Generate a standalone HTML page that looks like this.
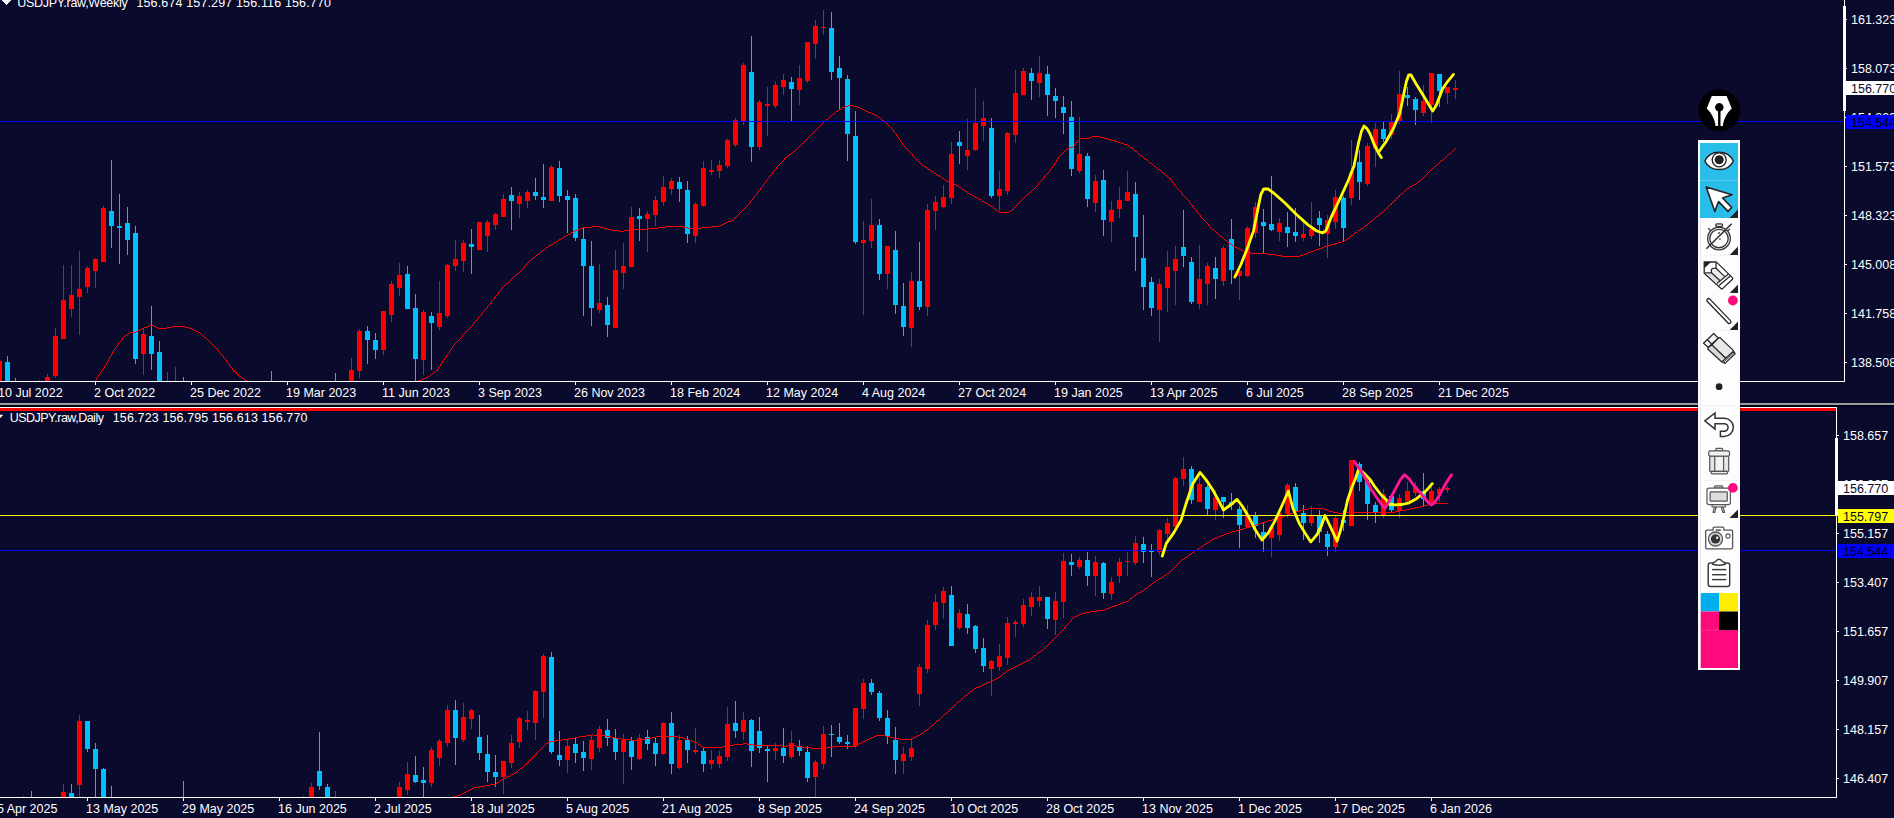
<!DOCTYPE html>
<html><head><meta charset="utf-8"><title>USDJPY</title>
<style>
html,body{margin:0;padding:0;background:#0a0a2d;overflow:hidden}
body{width:1894px;height:818px;position:relative;font-family:"Liberation Sans",sans-serif}
.t{position:absolute;font-size:12.5px;line-height:16px;height:16px;white-space:nowrap}
.tag{position:absolute;height:14px;overflow:hidden;font-size:12.5px;line-height:14px}
.tag span{position:absolute;top:1px}
</style></head><body>
<svg width="1894" height="818" viewBox="0 0 1894 818" style="position:absolute;left:0;top:0" shape-rendering="crispEdges">
<rect width="1894" height="818" fill="#0a0a2d"/>
<g id="top">
<rect x="-1" y="361" width="1" height="20" fill="#ff0000"/>
<rect x="-3" y="361" width="5" height="20" fill="#ff0000"/>
<rect x="7" y="356" width="1" height="25" fill="#00bfff"/>
<rect x="5" y="362" width="5" height="19" fill="#00bfff"/>
<rect x="15" y="378" width="1" height="3" fill="#00bfff"/>
<rect x="39" y="380" width="1" height="1" fill="#ff0000"/>
<rect x="47" y="374" width="1" height="7" fill="#ff0000"/>
<rect x="45" y="377" width="5" height="4" fill="#ff0000"/>
<rect x="55" y="328" width="1" height="50" fill="#ff0000"/>
<rect x="53" y="336" width="5" height="40" fill="#ff0000"/>
<rect x="63" y="265" width="1" height="74" fill="#ff0000"/>
<rect x="61" y="300" width="5" height="39" fill="#ff0000"/>
<rect x="71" y="265" width="1" height="52" fill="#ff0000"/>
<rect x="69" y="295" width="5" height="14" fill="#ff0000"/>
<rect x="79" y="251" width="1" height="84" fill="#ff0000"/>
<rect x="77" y="289" width="5" height="8" fill="#ff0000"/>
<rect x="87" y="266" width="1" height="27" fill="#ff0000"/>
<rect x="85" y="268" width="5" height="19" fill="#ff0000"/>
<rect x="95" y="258" width="1" height="30" fill="#ff0000"/>
<rect x="93" y="259" width="5" height="12" fill="#ff0000"/>
<rect x="103" y="206" width="1" height="56" fill="#ff0000"/>
<rect x="101" y="208" width="5" height="54" fill="#ff0000"/>
<rect x="111" y="160" width="1" height="88" fill="#00bfff"/>
<rect x="109" y="211" width="5" height="15" fill="#00bfff"/>
<rect x="119" y="194" width="1" height="70" fill="#00bfff"/>
<rect x="117" y="226" width="5" height="2" fill="#00bfff"/>
<rect x="127" y="207" width="1" height="48" fill="#00bfff"/>
<rect x="125" y="223" width="5" height="17" fill="#00bfff"/>
<rect x="135" y="226" width="1" height="138" fill="#00bfff"/>
<rect x="133" y="233" width="5" height="126" fill="#00bfff"/>
<rect x="143" y="328" width="1" height="47" fill="#ff0000"/>
<rect x="141" y="334" width="5" height="20" fill="#ff0000"/>
<rect x="151" y="306" width="1" height="64" fill="#00bfff"/>
<rect x="149" y="336" width="5" height="18" fill="#00bfff"/>
<rect x="159" y="341" width="1" height="40" fill="#00bfff"/>
<rect x="157" y="352" width="5" height="29" fill="#00bfff"/>
<rect x="167" y="372" width="1" height="9" fill="#ff0000"/>
<rect x="175" y="367" width="1" height="14" fill="#ff0000"/>
<rect x="183" y="377" width="1" height="4" fill="#00bfff"/>
<rect x="271" y="371" width="1" height="10" fill="#00bfff"/>
<rect x="335" y="373" width="1" height="8" fill="#00bfff"/>
<rect x="351" y="358" width="1" height="23" fill="#ff0000"/>
<rect x="349" y="370" width="5" height="11" fill="#ff0000"/>
<rect x="359" y="329" width="1" height="49" fill="#ff0000"/>
<rect x="357" y="331" width="5" height="40" fill="#ff0000"/>
<rect x="367" y="326" width="1" height="38" fill="#00bfff"/>
<rect x="365" y="331" width="5" height="9" fill="#00bfff"/>
<rect x="375" y="333" width="1" height="26" fill="#00bfff"/>
<rect x="373" y="340" width="5" height="10" fill="#00bfff"/>
<rect x="383" y="311" width="1" height="44" fill="#ff0000"/>
<rect x="381" y="311" width="5" height="39" fill="#ff0000"/>
<rect x="391" y="281" width="1" height="41" fill="#ff0000"/>
<rect x="389" y="284" width="5" height="31" fill="#ff0000"/>
<rect x="399" y="263" width="1" height="33" fill="#ff0000"/>
<rect x="397" y="275" width="5" height="13" fill="#ff0000"/>
<rect x="407" y="266" width="1" height="43" fill="#00bfff"/>
<rect x="405" y="274" width="5" height="35" fill="#00bfff"/>
<rect x="415" y="294" width="1" height="87" fill="#00bfff"/>
<rect x="413" y="308" width="5" height="51" fill="#00bfff"/>
<rect x="423" y="310" width="1" height="65" fill="#ff0000"/>
<rect x="421" y="312" width="5" height="48" fill="#ff0000"/>
<rect x="431" y="312" width="1" height="58" fill="#00bfff"/>
<rect x="429" y="316" width="5" height="7" fill="#00bfff"/>
<rect x="439" y="281" width="1" height="49" fill="#ff0000"/>
<rect x="437" y="313" width="5" height="14" fill="#ff0000"/>
<rect x="447" y="264" width="1" height="54" fill="#ff0000"/>
<rect x="445" y="265" width="5" height="51" fill="#ff0000"/>
<rect x="455" y="240" width="1" height="31" fill="#ff0000"/>
<rect x="453" y="259" width="5" height="7" fill="#ff0000"/>
<rect x="463" y="240" width="1" height="32" fill="#ff0000"/>
<rect x="461" y="243" width="5" height="18" fill="#ff0000"/>
<rect x="471" y="229" width="1" height="45" fill="#00bfff"/>
<rect x="469" y="244" width="5" height="3" fill="#00bfff"/>
<rect x="479" y="222" width="1" height="28" fill="#ff0000"/>
<rect x="477" y="222" width="5" height="28" fill="#ff0000"/>
<rect x="487" y="220" width="1" height="32" fill="#ff0000"/>
<rect x="485" y="222" width="5" height="14" fill="#ff0000"/>
<rect x="495" y="213" width="1" height="17" fill="#ff0000"/>
<rect x="493" y="214" width="5" height="11" fill="#ff0000"/>
<rect x="503" y="194" width="1" height="23" fill="#ff0000"/>
<rect x="501" y="199" width="5" height="18" fill="#ff0000"/>
<rect x="511" y="187" width="1" height="43" fill="#00bfff"/>
<rect x="509" y="195" width="5" height="6" fill="#00bfff"/>
<rect x="519" y="192" width="1" height="26" fill="#ff0000"/>
<rect x="517" y="196" width="5" height="8" fill="#ff0000"/>
<rect x="527" y="190" width="1" height="18" fill="#ff0000"/>
<rect x="525" y="192" width="5" height="9" fill="#ff0000"/>
<rect x="535" y="178" width="1" height="22" fill="#00bfff"/>
<rect x="533" y="192" width="5" height="4" fill="#00bfff"/>
<rect x="543" y="164" width="1" height="44" fill="#00bfff"/>
<rect x="541" y="197" width="5" height="3" fill="#00bfff"/>
<rect x="551" y="165" width="1" height="36" fill="#ff0000"/>
<rect x="549" y="167" width="5" height="34" fill="#ff0000"/>
<rect x="559" y="161" width="1" height="41" fill="#00bfff"/>
<rect x="557" y="168" width="5" height="28" fill="#00bfff"/>
<rect x="567" y="190" width="1" height="43" fill="#00bfff"/>
<rect x="565" y="196" width="5" height="4" fill="#00bfff"/>
<rect x="575" y="194" width="1" height="47" fill="#00bfff"/>
<rect x="573" y="198" width="5" height="40" fill="#00bfff"/>
<rect x="583" y="228" width="1" height="88" fill="#00bfff"/>
<rect x="581" y="239" width="5" height="27" fill="#00bfff"/>
<rect x="591" y="241" width="1" height="85" fill="#00bfff"/>
<rect x="589" y="266" width="5" height="42" fill="#00bfff"/>
<rect x="599" y="264" width="1" height="49" fill="#ff0000"/>
<rect x="597" y="303" width="5" height="7" fill="#ff0000"/>
<rect x="607" y="297" width="1" height="40" fill="#00bfff"/>
<rect x="605" y="305" width="5" height="20" fill="#00bfff"/>
<rect x="615" y="250" width="1" height="78" fill="#ff0000"/>
<rect x="613" y="270" width="5" height="58" fill="#ff0000"/>
<rect x="623" y="243" width="1" height="46" fill="#ff0000"/>
<rect x="621" y="266" width="5" height="7" fill="#ff0000"/>
<rect x="631" y="207" width="1" height="60" fill="#ff0000"/>
<rect x="629" y="217" width="5" height="50" fill="#ff0000"/>
<rect x="639" y="208" width="1" height="33" fill="#00bfff"/>
<rect x="637" y="216" width="5" height="3" fill="#00bfff"/>
<rect x="647" y="211" width="1" height="41" fill="#ff0000"/>
<rect x="645" y="214" width="5" height="5" fill="#ff0000"/>
<rect x="655" y="196" width="1" height="30" fill="#ff0000"/>
<rect x="653" y="200" width="5" height="15" fill="#ff0000"/>
<rect x="663" y="176" width="1" height="30" fill="#ff0000"/>
<rect x="661" y="187" width="5" height="15" fill="#ff0000"/>
<rect x="671" y="178" width="1" height="17" fill="#ff0000"/>
<rect x="669" y="181" width="5" height="8" fill="#ff0000"/>
<rect x="679" y="177" width="1" height="25" fill="#00bfff"/>
<rect x="677" y="182" width="5" height="7" fill="#00bfff"/>
<rect x="687" y="181" width="1" height="62" fill="#00bfff"/>
<rect x="685" y="190" width="5" height="44" fill="#00bfff"/>
<rect x="695" y="202" width="1" height="41" fill="#ff0000"/>
<rect x="693" y="204" width="5" height="32" fill="#ff0000"/>
<rect x="703" y="161" width="1" height="46" fill="#ff0000"/>
<rect x="701" y="168" width="5" height="38" fill="#ff0000"/>
<rect x="711" y="160" width="1" height="15" fill="#ff0000"/>
<rect x="709" y="170" width="5" height="2" fill="#ff0000"/>
<rect x="719" y="160" width="1" height="18" fill="#ff0000"/>
<rect x="717" y="165" width="5" height="6" fill="#ff0000"/>
<rect x="727" y="139" width="1" height="29" fill="#ff0000"/>
<rect x="725" y="140" width="5" height="26" fill="#ff0000"/>
<rect x="735" y="118" width="1" height="29" fill="#ff0000"/>
<rect x="733" y="120" width="5" height="25" fill="#ff0000"/>
<rect x="743" y="63" width="1" height="62" fill="#ff0000"/>
<rect x="741" y="65" width="5" height="57" fill="#ff0000"/>
<rect x="751" y="36" width="1" height="126" fill="#00bfff"/>
<rect x="749" y="72" width="5" height="75" fill="#00bfff"/>
<rect x="759" y="100" width="1" height="50" fill="#ff0000"/>
<rect x="757" y="102" width="5" height="45" fill="#ff0000"/>
<rect x="767" y="87" width="1" height="49" fill="#ff0000"/>
<rect x="765" y="104" width="5" height="2" fill="#ff0000"/>
<rect x="775" y="81" width="1" height="27" fill="#ff0000"/>
<rect x="773" y="85" width="5" height="21" fill="#ff0000"/>
<rect x="783" y="74" width="1" height="21" fill="#ff0000"/>
<rect x="781" y="80" width="5" height="7" fill="#ff0000"/>
<rect x="791" y="77" width="1" height="44" fill="#00bfff"/>
<rect x="789" y="82" width="5" height="7" fill="#00bfff"/>
<rect x="799" y="65" width="1" height="40" fill="#ff0000"/>
<rect x="797" y="78" width="5" height="12" fill="#ff0000"/>
<rect x="807" y="42" width="1" height="41" fill="#ff0000"/>
<rect x="805" y="42" width="5" height="39" fill="#ff0000"/>
<rect x="815" y="20" width="1" height="39" fill="#ff0000"/>
<rect x="813" y="26" width="5" height="18" fill="#ff0000"/>
<rect x="823" y="10" width="1" height="25" fill="#ff0000"/>
<rect x="821" y="27" width="5" height="1" fill="#ff0000"/>
<rect x="831" y="12" width="1" height="68" fill="#00bfff"/>
<rect x="829" y="28" width="5" height="44" fill="#00bfff"/>
<rect x="839" y="56" width="1" height="54" fill="#00bfff"/>
<rect x="837" y="68" width="5" height="10" fill="#00bfff"/>
<rect x="847" y="75" width="1" height="86" fill="#00bfff"/>
<rect x="845" y="79" width="5" height="55" fill="#00bfff"/>
<rect x="855" y="111" width="1" height="133" fill="#00bfff"/>
<rect x="853" y="136" width="5" height="106" fill="#00bfff"/>
<rect x="863" y="221" width="1" height="94" fill="#ff0000"/>
<rect x="861" y="240" width="5" height="3" fill="#ff0000"/>
<rect x="871" y="199" width="1" height="49" fill="#ff0000"/>
<rect x="869" y="225" width="5" height="16" fill="#ff0000"/>
<rect x="879" y="219" width="1" height="61" fill="#00bfff"/>
<rect x="877" y="225" width="5" height="49" fill="#00bfff"/>
<rect x="887" y="246" width="1" height="43" fill="#ff0000"/>
<rect x="885" y="246" width="5" height="28" fill="#ff0000"/>
<rect x="895" y="231" width="1" height="83" fill="#00bfff"/>
<rect x="893" y="250" width="5" height="55" fill="#00bfff"/>
<rect x="903" y="283" width="1" height="53" fill="#00bfff"/>
<rect x="901" y="306" width="5" height="21" fill="#00bfff"/>
<rect x="911" y="272" width="1" height="75" fill="#ff0000"/>
<rect x="909" y="281" width="5" height="47" fill="#ff0000"/>
<rect x="919" y="242" width="1" height="68" fill="#00bfff"/>
<rect x="917" y="281" width="5" height="26" fill="#00bfff"/>
<rect x="927" y="204" width="1" height="112" fill="#ff0000"/>
<rect x="925" y="210" width="5" height="97" fill="#ff0000"/>
<rect x="935" y="196" width="1" height="34" fill="#ff0000"/>
<rect x="933" y="202" width="5" height="9" fill="#ff0000"/>
<rect x="943" y="185" width="1" height="23" fill="#ff0000"/>
<rect x="941" y="197" width="5" height="10" fill="#ff0000"/>
<rect x="951" y="142" width="1" height="62" fill="#ff0000"/>
<rect x="949" y="154" width="5" height="44" fill="#ff0000"/>
<rect x="959" y="131" width="1" height="33" fill="#00bfff"/>
<rect x="957" y="142" width="5" height="4" fill="#00bfff"/>
<rect x="967" y="119" width="1" height="51" fill="#ff0000"/>
<rect x="965" y="150" width="5" height="6" fill="#ff0000"/>
<rect x="975" y="88" width="1" height="63" fill="#ff0000"/>
<rect x="973" y="123" width="5" height="27" fill="#ff0000"/>
<rect x="983" y="101" width="1" height="40" fill="#ff0000"/>
<rect x="981" y="118" width="5" height="8" fill="#ff0000"/>
<rect x="991" y="118" width="1" height="80" fill="#00bfff"/>
<rect x="989" y="128" width="5" height="68" fill="#00bfff"/>
<rect x="999" y="171" width="1" height="40" fill="#ff0000"/>
<rect x="997" y="189" width="5" height="7" fill="#ff0000"/>
<rect x="1007" y="132" width="1" height="63" fill="#ff0000"/>
<rect x="1005" y="133" width="5" height="58" fill="#ff0000"/>
<rect x="1015" y="70" width="1" height="73" fill="#ff0000"/>
<rect x="1013" y="93" width="5" height="42" fill="#ff0000"/>
<rect x="1023" y="68" width="1" height="27" fill="#ff0000"/>
<rect x="1021" y="71" width="5" height="24" fill="#ff0000"/>
<rect x="1031" y="68" width="1" height="32" fill="#00bfff"/>
<rect x="1029" y="73" width="5" height="8" fill="#00bfff"/>
<rect x="1039" y="56" width="1" height="41" fill="#ff0000"/>
<rect x="1037" y="73" width="5" height="10" fill="#ff0000"/>
<rect x="1047" y="66" width="1" height="50" fill="#00bfff"/>
<rect x="1045" y="74" width="5" height="21" fill="#00bfff"/>
<rect x="1055" y="88" width="1" height="30" fill="#00bfff"/>
<rect x="1053" y="96" width="5" height="5" fill="#00bfff"/>
<rect x="1063" y="96" width="1" height="38" fill="#00bfff"/>
<rect x="1061" y="107" width="5" height="6" fill="#00bfff"/>
<rect x="1071" y="101" width="1" height="75" fill="#00bfff"/>
<rect x="1069" y="117" width="5" height="52" fill="#00bfff"/>
<rect x="1079" y="117" width="1" height="56" fill="#ff0000"/>
<rect x="1077" y="154" width="5" height="17" fill="#ff0000"/>
<rect x="1087" y="153" width="1" height="54" fill="#00bfff"/>
<rect x="1085" y="156" width="5" height="43" fill="#00bfff"/>
<rect x="1095" y="175" width="1" height="37" fill="#ff0000"/>
<rect x="1093" y="181" width="5" height="22" fill="#ff0000"/>
<rect x="1103" y="170" width="1" height="66" fill="#00bfff"/>
<rect x="1101" y="180" width="5" height="40" fill="#00bfff"/>
<rect x="1111" y="201" width="1" height="41" fill="#ff0000"/>
<rect x="1109" y="210" width="5" height="12" fill="#ff0000"/>
<rect x="1119" y="187" width="1" height="31" fill="#ff0000"/>
<rect x="1117" y="200" width="5" height="9" fill="#ff0000"/>
<rect x="1127" y="171" width="1" height="30" fill="#ff0000"/>
<rect x="1125" y="192" width="5" height="9" fill="#ff0000"/>
<rect x="1135" y="182" width="1" height="89" fill="#00bfff"/>
<rect x="1133" y="194" width="5" height="43" fill="#00bfff"/>
<rect x="1143" y="215" width="1" height="95" fill="#00bfff"/>
<rect x="1141" y="258" width="5" height="29" fill="#00bfff"/>
<rect x="1151" y="277" width="1" height="39" fill="#00bfff"/>
<rect x="1149" y="282" width="5" height="26" fill="#00bfff"/>
<rect x="1159" y="279" width="1" height="63" fill="#ff0000"/>
<rect x="1157" y="284" width="5" height="26" fill="#ff0000"/>
<rect x="1167" y="251" width="1" height="61" fill="#ff0000"/>
<rect x="1165" y="267" width="5" height="21" fill="#ff0000"/>
<rect x="1175" y="246" width="1" height="59" fill="#ff0000"/>
<rect x="1173" y="259" width="5" height="12" fill="#ff0000"/>
<rect x="1183" y="210" width="1" height="57" fill="#00bfff"/>
<rect x="1181" y="247" width="5" height="9" fill="#00bfff"/>
<rect x="1191" y="257" width="1" height="47" fill="#00bfff"/>
<rect x="1189" y="262" width="5" height="40" fill="#00bfff"/>
<rect x="1199" y="245" width="1" height="64" fill="#ff0000"/>
<rect x="1197" y="279" width="5" height="25" fill="#ff0000"/>
<rect x="1207" y="263" width="1" height="42" fill="#ff0000"/>
<rect x="1205" y="266" width="5" height="18" fill="#ff0000"/>
<rect x="1215" y="257" width="1" height="42" fill="#00bfff"/>
<rect x="1213" y="268" width="5" height="11" fill="#00bfff"/>
<rect x="1223" y="246" width="1" height="40" fill="#ff0000"/>
<rect x="1221" y="248" width="5" height="33" fill="#ff0000"/>
<rect x="1231" y="219" width="1" height="65" fill="#00bfff"/>
<rect x="1229" y="239" width="5" height="31" fill="#00bfff"/>
<rect x="1239" y="271" width="1" height="29" fill="#ff0000"/>
<rect x="1237" y="271" width="5" height="5" fill="#ff0000"/>
<rect x="1247" y="226" width="1" height="51" fill="#ff0000"/>
<rect x="1245" y="228" width="5" height="48" fill="#ff0000"/>
<rect x="1255" y="202" width="1" height="36" fill="#ff0000"/>
<rect x="1253" y="207" width="5" height="26" fill="#ff0000"/>
<rect x="1263" y="209" width="1" height="44" fill="#00bfff"/>
<rect x="1261" y="222" width="5" height="4" fill="#00bfff"/>
<rect x="1271" y="176" width="1" height="55" fill="#00bfff"/>
<rect x="1269" y="224" width="5" height="6" fill="#00bfff"/>
<rect x="1279" y="218" width="1" height="23" fill="#ff0000"/>
<rect x="1277" y="223" width="5" height="9" fill="#ff0000"/>
<rect x="1287" y="212" width="1" height="35" fill="#00bfff"/>
<rect x="1285" y="227" width="5" height="6" fill="#00bfff"/>
<rect x="1295" y="208" width="1" height="34" fill="#00bfff"/>
<rect x="1293" y="232" width="5" height="4" fill="#00bfff"/>
<rect x="1303" y="219" width="1" height="22" fill="#ff0000"/>
<rect x="1301" y="234" width="5" height="4" fill="#ff0000"/>
<rect x="1311" y="202" width="1" height="37" fill="#ff0000"/>
<rect x="1309" y="229" width="5" height="7" fill="#ff0000"/>
<rect x="1319" y="211" width="1" height="35" fill="#00bfff"/>
<rect x="1317" y="218" width="5" height="7" fill="#00bfff"/>
<rect x="1327" y="215" width="1" height="43" fill="#ff0000"/>
<rect x="1325" y="220" width="5" height="14" fill="#ff0000"/>
<rect x="1335" y="190" width="1" height="39" fill="#ff0000"/>
<rect x="1333" y="197" width="5" height="25" fill="#ff0000"/>
<rect x="1343" y="196" width="1" height="45" fill="#00bfff"/>
<rect x="1341" y="198" width="5" height="30" fill="#00bfff"/>
<rect x="1351" y="140" width="1" height="65" fill="#ff0000"/>
<rect x="1349" y="172" width="5" height="26" fill="#ff0000"/>
<rect x="1359" y="150" width="1" height="50" fill="#00bfff"/>
<rect x="1357" y="162" width="5" height="20" fill="#00bfff"/>
<rect x="1367" y="143" width="1" height="43" fill="#ff0000"/>
<rect x="1365" y="146" width="5" height="38" fill="#ff0000"/>
<rect x="1375" y="123" width="1" height="44" fill="#ff0000"/>
<rect x="1373" y="129" width="5" height="20" fill="#ff0000"/>
<rect x="1383" y="122" width="1" height="20" fill="#00bfff"/>
<rect x="1381" y="129" width="5" height="10" fill="#00bfff"/>
<rect x="1391" y="114" width="1" height="25" fill="#ff0000"/>
<rect x="1389" y="122" width="5" height="13" fill="#ff0000"/>
<rect x="1399" y="71" width="1" height="53" fill="#ff0000"/>
<rect x="1397" y="94" width="5" height="27" fill="#ff0000"/>
<rect x="1407" y="87" width="1" height="19" fill="#00bfff"/>
<rect x="1405" y="95" width="5" height="3" fill="#00bfff"/>
<rect x="1415" y="97" width="1" height="28" fill="#00bfff"/>
<rect x="1413" y="99" width="5" height="11" fill="#00bfff"/>
<rect x="1423" y="85" width="1" height="31" fill="#ff0000"/>
<rect x="1421" y="101" width="5" height="12" fill="#ff0000"/>
<rect x="1431" y="73" width="1" height="50" fill="#ff0000"/>
<rect x="1429" y="73" width="5" height="32" fill="#ff0000"/>
<rect x="1439" y="74" width="1" height="33" fill="#00bfff"/>
<rect x="1437" y="74" width="5" height="17" fill="#00bfff"/>
<rect x="1447" y="87" width="1" height="17" fill="#ff0000"/>
<rect x="1445" y="87" width="5" height="6" fill="#ff0000"/>
<rect x="1455" y="80" width="1" height="19" fill="#ff0000"/>
<rect x="1453" y="88" width="5" height="2" fill="#ff0000"/>
<path d="M95 380h1v1h-1zM96 378h1v2h-1zM97 377h1v1h-1zM98 375h1v2h-1zM99 374h1v1h-1zM100 372h1v2h-1zM101 371h1v1h-1zM102 369h1v2h-1zM103 368h1v1h-1zM104 366h1v2h-1zM105 365h1v1h-1zM106 363h1v2h-1zM107 361h1v2h-1zM108 359h1v2h-1zM109 357h1v2h-1zM110 356h1v1h-1zM111 354h1v2h-1zM112 352h1v2h-1zM113 350h1v2h-1zM114 349h1v1h-1zM115 347h1v2h-1zM116 346h1v1h-1zM117 345h1v1h-1zM118 343h1v2h-1zM119 342h1v1h-1zM120 341h1v1h-1zM121 340h1v1h-1zM122 338h1v2h-1zM123 337h1v1h-1zM124 336h1v1h-1zM125 335h2v1h-2zM127 334h1v1h-1zM128 333h1v1h-1zM129 332h7v1h-7zM136 331h2v1h-2zM138 330h2v1h-2zM140 329h2v1h-2zM142 328h2v1h-2zM144 327h3v1h-3zM147 326h2v1h-2zM149 325h5v1h-5zM154 326h2v1h-2zM156 327h2v1h-2zM158 328h9v1h-9zM167 327h5v1h-5zM172 326h13v1h-13zM185 327h4v1h-4zM189 328h3v1h-3zM192 329h2v1h-2zM194 330h2v1h-2zM196 331h2v1h-2zM198 332h2v1h-2zM200 333h1v1h-1zM201 334h1v1h-1zM202 335h1v1h-1zM203 336h1v1h-1zM204 337h2v1h-2zM206 338h1v1h-1zM207 339h1v1h-1zM208 340h1v1h-1zM209 341h1v1h-1zM210 342h1v1h-1zM211 343h1v1h-1zM212 344h1v1h-1zM213 345h1v1h-1zM214 346h1v1h-1zM215 347h1v1h-1zM216 348h1v1h-1zM217 349h1v1h-1zM218 350h1v2h-1zM219 352h1v1h-1zM220 353h1v1h-1zM221 354h1v1h-1zM222 355h1v1h-1zM223 356h1v2h-1zM224 358h1v1h-1zM225 359h1v1h-1zM226 360h1v2h-1zM227 362h1v1h-1zM228 363h1v1h-1zM229 364h1v2h-1zM230 366h1v1h-1zM231 367h1v1h-1zM232 368h1v2h-1zM233 370h1v1h-1zM234 370h1v2h-1zM235 372h1v1h-1zM236 372h1v2h-1zM237 374h1v1h-1zM238 374h1v2h-1zM239 376h2v1h-2zM241 377h1v1h-1zM242 378h2v1h-2zM244 379h1v1h-1zM245 380h2v1h-2z" fill="#ff0000"/>
<path d="M418 380h3v1h-3zM421 379h2v1h-2zM423 378h3v1h-3zM426 377h2v1h-2zM428 376h2v1h-2zM430 375h1v1h-1zM431 374h1v1h-1zM432 373h2v1h-2zM434 372h1v1h-1zM435 371h1v1h-1zM436 370h1v1h-1zM437 369h1v2h-1zM438 367h1v2h-1zM439 366h1v1h-1zM440 364h1v2h-1zM441 363h1v1h-1zM442 361h1v2h-1zM443 360h1v1h-1zM444 358h1v2h-1zM445 357h1v1h-1zM446 355h1v2h-1zM447 354h1v1h-1zM448 353h1v1h-1zM449 351h1v2h-1zM450 350h1v1h-1zM451 348h1v2h-1zM452 347h1v1h-1zM453 345h1v2h-1zM454 344h1v1h-1zM455 343h1v1h-1zM456 342h1v1h-1zM457 341h1v1h-1zM458 340h1v1h-1zM459 339h1v1h-1zM460 338h1v1h-1zM461 337h1v1h-1zM462 335h1v2h-1zM463 334h1v1h-1zM464 333h1v1h-1zM465 332h1v1h-1zM466 331h1v1h-1zM467 330h1v1h-1zM468 329h1v1h-1zM469 328h1v1h-1zM470 327h1v1h-1zM471 326h1v1h-1zM472 325h1v1h-1zM473 323h1v2h-1zM474 322h1v1h-1zM475 321h1v1h-1zM476 320h1v1h-1zM477 319h1v1h-1zM478 317h1v2h-1zM479 316h1v1h-1zM480 315h1v1h-1zM481 314h1v1h-1zM482 312h1v2h-1zM483 311h1v1h-1zM484 310h1v1h-1zM485 309h1v1h-1zM486 308h1v1h-1zM487 306h1v2h-1zM488 305h1v1h-1zM489 304h1v1h-1zM490 303h1v1h-1zM491 301h1v2h-1zM492 300h1v1h-1zM493 299h1v1h-1zM494 297h1v2h-1zM495 296h1v1h-1zM496 295h1v1h-1zM497 294h1v1h-1zM498 292h1v2h-1zM499 291h1v1h-1zM500 290h1v1h-1zM501 288h1v2h-1zM502 287h1v1h-1zM503 286h1v1h-1zM504 285h1v1h-1zM505 284h1v1h-1zM506 283h2v1h-2zM508 282h1v1h-1zM509 281h1v1h-1zM510 280h1v1h-1zM511 279h1v1h-1zM512 278h1v1h-1zM513 277h1v1h-1zM514 276h1v1h-1zM515 275h1v1h-1zM516 274h2v1h-2zM518 273h1v1h-1zM519 272h1v1h-1zM520 271h1v1h-1zM521 270h1v1h-1zM522 269h1v1h-1zM523 268h1v1h-1zM524 266h1v2h-1zM525 265h1v1h-1zM526 264h1v1h-1zM527 263h1v1h-1zM528 262h1v1h-1zM529 261h1v1h-1zM530 260h1v1h-1zM531 259h1v1h-1zM532 258h2v1h-2zM534 257h1v1h-1zM535 256h1v1h-1zM536 255h1v1h-1zM537 254h2v1h-2zM539 253h1v1h-1zM540 252h1v1h-1zM541 251h1v1h-1zM542 250h2v1h-2zM544 249h1v1h-1zM545 248h1v1h-1zM546 247h2v1h-2zM548 246h1v1h-1zM549 245h2v1h-2zM551 244h2v1h-2zM553 243h1v1h-1zM554 242h2v1h-2zM556 241h2v1h-2zM558 240h1v1h-1zM559 239h2v1h-2zM561 238h2v1h-2zM563 237h1v1h-1zM564 236h2v1h-2zM566 235h2v1h-2zM568 234h2v1h-2zM570 233h1v1h-1zM571 232h2v1h-2zM573 231h2v1h-2zM575 230h2v1h-2zM577 229h3v1h-3zM580 228h3v1h-3zM583 227h9v1h-9zM592 226h8v1h-8zM600 227h4v1h-4zM604 228h3v1h-3zM607 229h5v1h-5zM612 230h7v1h-7zM619 231h5v1h-5zM624 230h7v1h-7zM631 229h16v1h-16zM647 228h11v1h-11zM658 227h8v1h-8zM666 226h18v1h-18zM684 227h4v1h-4zM688 228h13v1h-13zM701 227h10v1h-10zM711 226h8v1h-8zM719 225h3v1h-3zM722 224h2v1h-2zM724 223h2v1h-2zM726 222h2v1h-2zM728 221h3v1h-3zM731 220h2v1h-2zM733 219h1v1h-1zM734 218h1v1h-1zM735 217h1v1h-1zM736 216h1v1h-1zM737 215h1v1h-1zM738 214h1v1h-1zM739 213h1v1h-1zM740 212h1v1h-1zM741 211h1v1h-1zM742 210h1v1h-1zM743 209h1v1h-1zM744 208h1v1h-1zM745 207h1v1h-1zM746 206h1v1h-1zM747 205h1v1h-1zM748 204h1v1h-1zM749 203h1v1h-1zM750 201h1v2h-1zM751 200h1v1h-1zM752 199h1v1h-1zM753 197h1v2h-1zM754 196h1v1h-1zM755 195h1v1h-1zM756 194h1v1h-1zM757 192h1v2h-1zM758 191h1v1h-1zM759 190h1v1h-1zM760 188h1v2h-1zM761 187h1v1h-1zM762 186h1v1h-1zM763 184h1v2h-1zM764 183h1v1h-1zM765 182h1v1h-1zM766 180h1v2h-1zM767 179h1v1h-1zM768 178h1v1h-1zM769 176h1v2h-1zM770 175h1v1h-1zM771 174h1v1h-1zM772 172h1v2h-1zM773 171h1v1h-1zM774 170h1v1h-1zM775 169h1v1h-1zM776 167h1v2h-1zM777 166h1v1h-1zM778 165h1v1h-1zM779 164h1v1h-1zM780 163h1v1h-1zM781 162h1v1h-1zM782 161h1v1h-1zM783 160h1v1h-1zM784 158h1v2h-1zM785 157h2v1h-2zM787 156h1v1h-1zM788 155h1v1h-1zM789 154h2v1h-2zM791 153h1v1h-1zM792 152h1v1h-1zM793 151h2v1h-2zM795 150h1v1h-1zM796 149h1v1h-1zM797 148h1v1h-1zM798 147h1v1h-1zM799 146h1v1h-1zM800 145h1v1h-1zM801 144h1v1h-1zM802 143h1v1h-1zM803 142h1v1h-1zM804 141h1v1h-1zM805 140h1v1h-1zM806 139h1v1h-1zM807 138h1v1h-1zM808 137h1v1h-1zM809 136h1v1h-1zM810 135h1v1h-1zM811 134h1v1h-1zM812 133h1v1h-1zM813 132h1v1h-1zM814 131h1v1h-1zM815 130h1v1h-1zM816 129h1v1h-1zM817 128h1v1h-1zM818 127h1v1h-1zM819 126h1v1h-1zM820 125h1v1h-1zM821 124h1v1h-1zM822 123h1v1h-1zM823 122h1v1h-1zM824 121h1v1h-1zM825 120h1v1h-1zM826 119h2v1h-2zM828 118h1v1h-1zM829 117h1v1h-1zM830 116h1v1h-1zM831 115h1v1h-1zM832 114h2v1h-2zM834 113h1v1h-1zM835 112h1v1h-1zM836 111h2v1h-2zM838 110h1v1h-1zM839 109h2v1h-2zM841 108h1v1h-1zM842 107h3v1h-3zM845 106h3v1h-3zM848 105h5v1h-5zM853 106h4v1h-4zM857 107h3v1h-3zM860 108h2v1h-2zM862 109h2v1h-2zM864 110h2v1h-2zM866 111h2v1h-2zM868 112h3v1h-3zM871 113h2v1h-2zM873 114h2v1h-2zM875 115h2v1h-2zM877 116h1v1h-1zM878 117h2v1h-2zM880 118h1v1h-1zM881 119h1v1h-1zM882 120h2v1h-2zM884 121h1v1h-1zM885 122h1v1h-1zM886 123h1v1h-1zM887 124h1v1h-1zM888 125h1v1h-1zM889 126h1v1h-1zM890 127h1v1h-1zM891 128h1v1h-1zM892 129h1v1h-1zM893 130h1v2h-1zM894 132h1v1h-1zM895 133h1v1h-1zM896 134h1v2h-1zM897 136h1v1h-1zM898 137h1v2h-1zM899 139h1v1h-1zM900 140h1v2h-1zM901 142h1v1h-1zM902 143h1v2h-1zM903 145h1v1h-1zM904 146h1v1h-1zM905 147h1v1h-1zM906 148h1v1h-1zM907 149h1v1h-1zM908 150h1v1h-1zM909 151h1v1h-1zM910 152h1v1h-1zM911 153h1v1h-1zM912 154h1v2h-1zM913 156h1v1h-1zM914 157h1v1h-1zM915 158h1v1h-1zM916 159h1v1h-1zM917 160h1v1h-1zM918 161h1v1h-1zM919 162h1v1h-1zM920 163h1v1h-1zM921 164h1v1h-1zM922 165h2v1h-2zM924 166h1v1h-1zM925 167h2v1h-2zM927 168h1v1h-1zM928 169h2v1h-2zM930 170h1v1h-1zM931 171h2v1h-2zM933 172h1v1h-1zM934 173h2v1h-2zM936 174h1v1h-1zM937 175h2v1h-2zM939 176h2v1h-2zM941 177h1v1h-1zM942 178h2v1h-2zM944 179h1v1h-1zM945 180h2v1h-2zM947 181h2v1h-2zM949 182h3v1h-3zM952 183h2v1h-2zM954 184h2v1h-2zM956 185h2v1h-2zM958 186h1v1h-1zM959 187h2v1h-2zM961 188h1v1h-1zM962 189h2v1h-2zM964 190h1v1h-1zM965 191h2v1h-2zM967 192h1v1h-1zM968 193h2v1h-2zM970 194h2v1h-2zM972 195h1v1h-1zM973 196h2v1h-2zM975 197h2v1h-2zM977 198h2v1h-2zM979 199h2v1h-2zM981 200h1v1h-1zM982 201h2v1h-2zM984 202h2v1h-2zM986 203h2v1h-2zM988 204h1v1h-1zM989 205h2v1h-2zM991 206h2v1h-2zM993 207h1v1h-1zM994 208h1v1h-1zM995 209h1v1h-1zM996 210h2v1h-2zM998 211h1v1h-1zM999 212h10v1h-10zM1009 211h2v1h-2zM1011 210h1v1h-1zM1012 209h1v1h-1zM1013 208h1v2h-1zM1014 207h1v1h-1zM1015 206h1v1h-1zM1016 205h1v1h-1zM1017 204h1v1h-1zM1018 203h1v1h-1zM1019 202h1v1h-1zM1020 201h1v1h-1zM1021 200h1v1h-1zM1022 199h1v1h-1zM1023 198h1v1h-1zM1024 197h1v1h-1zM1025 196h1v1h-1zM1026 195h1v1h-1zM1027 194h2v1h-2zM1029 193h1v1h-1zM1030 192h1v1h-1zM1031 191h1v1h-1zM1032 190h1v1h-1zM1033 189h1v1h-1zM1034 188h1v1h-1zM1035 187h1v1h-1zM1036 186h1v1h-1zM1037 185h1v1h-1zM1038 183h1v2h-1zM1039 182h1v1h-1zM1040 181h1v1h-1zM1041 180h1v1h-1zM1042 179h1v1h-1zM1043 178h1v1h-1zM1044 176h1v2h-1zM1045 175h1v1h-1zM1046 174h1v1h-1zM1047 173h1v1h-1zM1048 172h1v1h-1zM1049 171h1v1h-1zM1050 169h1v2h-1zM1051 168h1v1h-1zM1052 166h1v2h-1zM1053 165h1v1h-1zM1054 163h1v2h-1zM1055 162h1v1h-1zM1056 160h1v2h-1zM1057 159h1v1h-1zM1058 157h1v2h-1zM1059 156h1v1h-1zM1060 155h1v1h-1zM1061 154h1v1h-1zM1062 153h1v1h-1zM1063 152h1v1h-1zM1064 151h1v1h-1zM1065 150h1v1h-1zM1066 149h2v1h-2zM1068 148h2v1h-2zM1070 147h3v1h-3zM1073 146h1v1h-1zM1074 144h1v2h-1zM1075 143h1v1h-1zM1076 142h1v1h-1zM1077 141h1v1h-1zM1078 140h1v1h-1zM1079 139h1v1h-1zM1080 138h9v1h-9zM1089 137h3v1h-3zM1092 136h8v1h-8zM1100 137h4v1h-4zM1104 138h4v1h-4zM1108 139h3v1h-3zM1111 140h4v1h-4zM1115 141h3v1h-3zM1118 142h3v1h-3zM1121 143h3v1h-3zM1124 144h3v1h-3zM1127 145h2v1h-2zM1129 146h1v1h-1zM1130 147h2v1h-2zM1132 148h1v1h-1zM1133 149h1v1h-1zM1134 150h1v1h-1zM1135 151h2v1h-2zM1137 152h1v1h-1zM1138 153h1v1h-1zM1139 154h1v1h-1zM1140 155h2v1h-2zM1142 156h1v1h-1zM1143 157h1v1h-1zM1144 158h1v1h-1zM1145 159h2v1h-2zM1147 160h1v1h-1zM1148 161h1v1h-1zM1149 162h1v1h-1zM1150 163h2v1h-2zM1152 164h1v1h-1zM1153 165h1v1h-1zM1154 166h2v1h-2zM1156 167h1v1h-1zM1157 168h1v1h-1zM1158 169h2v1h-2zM1160 170h1v1h-1zM1161 171h1v1h-1zM1162 172h1v1h-1zM1163 173h2v1h-2zM1165 174h1v1h-1zM1166 175h1v1h-1zM1167 176h1v1h-1zM1168 177h1v1h-1zM1169 178h1v1h-1zM1170 178h1v2h-1zM1171 180h1v1h-1zM1172 181h1v2h-1zM1173 183h1v1h-1zM1174 184h1v2h-1zM1175 186h1v1h-1zM1176 187h1v1h-1zM1177 188h1v1h-1zM1178 189h1v1h-1zM1179 190h1v1h-1zM1180 191h1v1h-1zM1181 192h1v2h-1zM1182 194h1v1h-1zM1183 195h1v1h-1zM1184 196h1v1h-1zM1185 197h1v1h-1zM1186 198h1v1h-1zM1187 199h1v1h-1zM1188 200h1v1h-1zM1189 201h1v2h-1zM1190 203h1v1h-1zM1191 204h1v1h-1zM1192 205h1v2h-1zM1193 207h1v1h-1zM1194 208h1v1h-1zM1195 209h1v1h-1zM1196 210h1v2h-1zM1197 212h1v1h-1zM1198 213h1v1h-1zM1199 214h1v1h-1zM1200 215h1v2h-1zM1201 217h1v1h-1zM1202 218h1v1h-1zM1203 219h1v1h-1zM1204 220h1v1h-1zM1205 221h1v1h-1zM1206 222h1v1h-1zM1207 223h1v1h-1zM1208 224h1v2h-1zM1209 226h1v1h-1zM1210 227h1v1h-1zM1211 228h1v1h-1zM1212 229h2v1h-2zM1214 230h1v1h-1zM1215 231h1v1h-1zM1216 232h1v1h-1zM1217 233h1v1h-1zM1218 234h1v1h-1zM1219 235h1v1h-1zM1220 236h2v1h-2zM1222 237h1v1h-1zM1223 238h1v1h-1zM1224 239h1v1h-1zM1225 240h2v1h-2zM1227 241h1v1h-1zM1228 242h1v1h-1zM1229 243h2v1h-2zM1231 244h1v1h-1zM1232 245h1v1h-1zM1233 246h2v1h-2zM1235 247h2v1h-2zM1237 248h2v1h-2zM1239 249h2v1h-2zM1241 250h3v1h-3zM1244 251h3v1h-3zM1247 252h4v1h-4zM1251 253h17v1h-17zM1268 254h8v1h-8zM1276 255h6v1h-6zM1282 256h18v1h-18zM1300 255h3v1h-3zM1303 254h3v1h-3zM1306 253h2v1h-2zM1308 252h3v1h-3zM1311 251h3v1h-3zM1314 250h2v1h-2zM1316 249h3v1h-3zM1319 248h3v1h-3zM1322 247h2v1h-2zM1324 246h3v1h-3zM1327 245h4v1h-4zM1331 244h4v1h-4zM1335 243h3v1h-3zM1338 242h4v1h-4zM1342 241h2v1h-2zM1344 240h2v1h-2zM1346 239h1v1h-1zM1347 238h2v1h-2zM1349 237h1v1h-1zM1350 236h1v1h-1zM1351 235h2v1h-2zM1353 234h1v1h-1zM1354 233h1v1h-1zM1355 232h2v1h-2zM1357 231h1v1h-1zM1358 230h2v1h-2zM1360 229h1v1h-1zM1361 228h2v1h-2zM1363 227h1v1h-1zM1364 226h1v1h-1zM1365 225h2v1h-2zM1367 224h1v1h-1zM1368 223h1v1h-1zM1369 222h1v1h-1zM1370 221h2v1h-2zM1372 220h1v1h-1zM1373 219h1v1h-1zM1374 218h1v1h-1zM1375 217h1v1h-1zM1376 216h2v1h-2zM1378 215h1v1h-1zM1379 214h1v1h-1zM1380 213h2v1h-2zM1382 212h1v1h-1zM1383 211h1v1h-1zM1384 210h1v1h-1zM1385 209h1v1h-1zM1386 208h1v1h-1zM1387 207h1v1h-1zM1388 206h1v1h-1zM1389 205h1v1h-1zM1390 204h1v1h-1zM1391 203h1v2h-1zM1392 202h1v1h-1zM1393 201h1v2h-1zM1394 200h1v1h-1zM1395 199h1v2h-1zM1396 198h1v1h-1zM1397 197h1v2h-1zM1398 196h1v1h-1zM1399 195h1v2h-1zM1400 194h2v1h-2zM1402 193h1v1h-1zM1403 192h1v1h-1zM1404 191h1v1h-1zM1405 190h1v1h-1zM1406 189h1v1h-1zM1407 188h2v1h-2zM1409 187h1v1h-1zM1410 186h2v1h-2zM1412 185h2v1h-2zM1414 184h2v1h-2zM1416 183h1v1h-1zM1417 182h1v1h-1zM1418 181h2v1h-2zM1420 180h1v1h-1zM1421 179h1v1h-1zM1422 178h1v1h-1zM1423 177h1v1h-1zM1424 176h1v1h-1zM1425 175h1v1h-1zM1426 174h1v1h-1zM1427 173h1v1h-1zM1428 172h1v1h-1zM1429 171h1v1h-1zM1430 170h1v1h-1zM1431 169h1v1h-1zM1432 168h1v1h-1zM1433 167h1v1h-1zM1434 166h2v1h-2zM1436 165h1v1h-1zM1437 164h1v1h-1zM1438 163h1v1h-1zM1439 162h1v1h-1zM1440 161h1v1h-1zM1441 160h2v1h-2zM1443 159h1v1h-1zM1444 158h1v1h-1zM1445 157h1v1h-1zM1446 156h1v1h-1zM1447 155h1v1h-1zM1448 154h2v1h-2zM1450 153h1v1h-1zM1451 152h1v1h-1zM1452 151h1v1h-1zM1453 150h1v1h-1zM1454 149h1v1h-1zM1455 148h1v1h-1z" fill="#ff0000"/>
<rect x="0" y="121" width="1844" height="1" fill="#0000ff"/>
<polyline points="1234.9,277.0 1240.7,265.0 1246.4,250.7 1253.6,230.6 1258.5,206.0 1260.8,194.7 1263.7,189.0 1268.0,189.0 1273.7,193.0 1285.0,203.0 1296.7,214.8 1308.0,224.9 1316.8,231.0 1322.6,232.9 1326.0,230.6 1331.0,217.7 1339.8,199.0 1348.5,180.0 1354.0,166.0 1358.5,143.0 1361.4,131.5 1364.0,126.0 1367.0,128.6 1370.0,133.8 1374.0,144.0 1379.0,154.0 1381.3,157.6" fill="none" stroke="#ffff00" stroke-width="2.8" stroke-linejoin="round" stroke-linecap="round" shape-rendering="geometricPrecision"/>
<polyline points="1379.0,151.5 1386.0,141.7 1393.6,128.0 1399.7,113.6 1403.3,96.5 1406.3,81.8 1408.7,75.0 1411.0,75.0 1415.6,83.0 1423.0,95.0 1429.0,105.0 1432.7,111.0 1436.4,105.0 1442.5,89.0 1447.4,81.8 1453.5,74.4" fill="none" stroke="#ffff00" stroke-width="2.8" stroke-linejoin="round" stroke-linecap="round" shape-rendering="geometricPrecision"/>
<rect x="0" y="381" width="1845" height="1" fill="#fff"/>
<rect x="1844" y="0" width="1" height="382" fill="#fff"/>
<rect x="1843" y="6" width="3" height="105" fill="#fff"/>
<rect x="95" y="382" width="1" height="3" fill="#fff"/>
<rect x="191" y="382" width="1" height="3" fill="#fff"/>
<rect x="287" y="382" width="1" height="3" fill="#fff"/>
<rect x="383" y="382" width="1" height="3" fill="#fff"/>
<rect x="479" y="382" width="1" height="3" fill="#fff"/>
<rect x="575" y="382" width="1" height="3" fill="#fff"/>
<rect x="671" y="382" width="1" height="3" fill="#fff"/>
<rect x="767" y="382" width="1" height="3" fill="#fff"/>
<rect x="863" y="382" width="1" height="3" fill="#fff"/>
<rect x="959" y="382" width="1" height="3" fill="#fff"/>
<rect x="1055" y="382" width="1" height="3" fill="#fff"/>
<rect x="1151" y="382" width="1" height="3" fill="#fff"/>
<rect x="1247" y="382" width="1" height="3" fill="#fff"/>
<rect x="1343" y="382" width="1" height="3" fill="#fff"/>
<rect x="1439" y="382" width="1" height="3" fill="#fff"/>
<rect x="1845" y="19" width="2" height="1" fill="#fff"/>
<rect x="1845" y="68" width="2" height="1" fill="#fff"/>
<rect x="1845" y="117" width="2" height="1" fill="#fff"/>
<rect x="1845" y="166" width="2" height="1" fill="#fff"/>
<rect x="1845" y="215" width="2" height="1" fill="#fff"/>
<rect x="1845" y="264" width="2" height="1" fill="#fff"/>
<rect x="1845" y="313" width="2" height="1" fill="#fff"/>
<rect x="1845" y="362" width="2" height="1" fill="#fff"/>
</g>
<rect x="0" y="403" width="1894" height="2" fill="#9c9c9c"/>
<rect x="0" y="405" width="1894" height="2" fill="#00001a"/>
<g id="bot">
<rect x="0" y="407" width="1837" height="1" fill="#fff"/>
<rect x="0" y="408" width="1836" height="3" fill="#ff0000"/>
<rect x="23" y="796" width="1" height="1" fill="#ff0000"/>
<rect x="31" y="791" width="1" height="6" fill="#00bfff"/>
<rect x="63" y="784" width="1" height="13" fill="#ff0000"/>
<rect x="61" y="792" width="5" height="5" fill="#ff0000"/>
<rect x="71" y="784" width="1" height="13" fill="#00bfff"/>
<rect x="69" y="793" width="5" height="4" fill="#00bfff"/>
<rect x="79" y="715" width="1" height="82" fill="#ff0000"/>
<rect x="77" y="721" width="5" height="64" fill="#ff0000"/>
<rect x="87" y="721" width="1" height="31" fill="#00bfff"/>
<rect x="85" y="721" width="5" height="28" fill="#00bfff"/>
<rect x="95" y="743" width="1" height="54" fill="#00bfff"/>
<rect x="93" y="749" width="5" height="20" fill="#00bfff"/>
<rect x="103" y="768" width="1" height="29" fill="#00bfff"/>
<rect x="101" y="769" width="5" height="28" fill="#00bfff"/>
<rect x="111" y="786" width="1" height="11" fill="#00bfff"/>
<rect x="183" y="781" width="1" height="16" fill="#00bfff"/>
<rect x="303" y="796" width="1" height="1" fill="#ff0000"/>
<rect x="311" y="783" width="1" height="14" fill="#ff0000"/>
<rect x="309" y="787" width="5" height="10" fill="#ff0000"/>
<rect x="319" y="732" width="1" height="58" fill="#00bfff"/>
<rect x="317" y="771" width="5" height="15" fill="#00bfff"/>
<rect x="327" y="784" width="1" height="13" fill="#00bfff"/>
<rect x="325" y="787" width="5" height="10" fill="#00bfff"/>
<rect x="335" y="791" width="1" height="6" fill="#ff0000"/>
<rect x="399" y="782" width="1" height="15" fill="#ff0000"/>
<rect x="397" y="787" width="5" height="10" fill="#ff0000"/>
<rect x="407" y="762" width="1" height="33" fill="#ff0000"/>
<rect x="405" y="774" width="5" height="16" fill="#ff0000"/>
<rect x="415" y="756" width="1" height="27" fill="#00bfff"/>
<rect x="413" y="775" width="5" height="7" fill="#00bfff"/>
<rect x="423" y="767" width="1" height="30" fill="#00bfff"/>
<rect x="421" y="780" width="5" height="3" fill="#00bfff"/>
<rect x="431" y="747" width="1" height="40" fill="#ff0000"/>
<rect x="429" y="750" width="5" height="33" fill="#ff0000"/>
<rect x="439" y="739" width="1" height="27" fill="#ff0000"/>
<rect x="437" y="741" width="5" height="17" fill="#ff0000"/>
<rect x="447" y="705" width="1" height="42" fill="#ff0000"/>
<rect x="445" y="710" width="5" height="33" fill="#ff0000"/>
<rect x="455" y="700" width="1" height="65" fill="#00bfff"/>
<rect x="453" y="710" width="5" height="28" fill="#00bfff"/>
<rect x="463" y="703" width="1" height="39" fill="#ff0000"/>
<rect x="461" y="717" width="5" height="23" fill="#ff0000"/>
<rect x="471" y="709" width="1" height="20" fill="#ff0000"/>
<rect x="469" y="710" width="5" height="9" fill="#ff0000"/>
<rect x="479" y="715" width="1" height="45" fill="#00bfff"/>
<rect x="477" y="737" width="5" height="16" fill="#00bfff"/>
<rect x="487" y="735" width="1" height="47" fill="#00bfff"/>
<rect x="485" y="754" width="5" height="18" fill="#00bfff"/>
<rect x="495" y="755" width="1" height="32" fill="#00bfff"/>
<rect x="493" y="772" width="5" height="5" fill="#00bfff"/>
<rect x="503" y="761" width="1" height="33" fill="#ff0000"/>
<rect x="501" y="761" width="5" height="16" fill="#ff0000"/>
<rect x="511" y="735" width="1" height="33" fill="#ff0000"/>
<rect x="509" y="743" width="5" height="20" fill="#ff0000"/>
<rect x="519" y="717" width="1" height="31" fill="#ff0000"/>
<rect x="517" y="718" width="5" height="24" fill="#ff0000"/>
<rect x="527" y="711" width="1" height="19" fill="#ff0000"/>
<rect x="525" y="720" width="5" height="2" fill="#ff0000"/>
<rect x="535" y="690" width="1" height="50" fill="#ff0000"/>
<rect x="533" y="691" width="5" height="32" fill="#ff0000"/>
<rect x="543" y="654" width="1" height="64" fill="#ff0000"/>
<rect x="541" y="656" width="5" height="36" fill="#ff0000"/>
<rect x="551" y="652" width="1" height="102" fill="#00bfff"/>
<rect x="549" y="657" width="5" height="95" fill="#00bfff"/>
<rect x="559" y="731" width="1" height="35" fill="#00bfff"/>
<rect x="557" y="755" width="5" height="5" fill="#00bfff"/>
<rect x="567" y="739" width="1" height="34" fill="#ff0000"/>
<rect x="565" y="746" width="5" height="14" fill="#ff0000"/>
<rect x="575" y="738" width="1" height="25" fill="#00bfff"/>
<rect x="573" y="744" width="5" height="9" fill="#00bfff"/>
<rect x="583" y="741" width="1" height="30" fill="#00bfff"/>
<rect x="581" y="752" width="5" height="6" fill="#00bfff"/>
<rect x="591" y="736" width="1" height="34" fill="#ff0000"/>
<rect x="589" y="740" width="5" height="19" fill="#ff0000"/>
<rect x="599" y="726" width="1" height="26" fill="#ff0000"/>
<rect x="597" y="729" width="5" height="19" fill="#ff0000"/>
<rect x="607" y="719" width="1" height="27" fill="#00bfff"/>
<rect x="605" y="730" width="5" height="8" fill="#00bfff"/>
<rect x="615" y="729" width="1" height="31" fill="#00bfff"/>
<rect x="613" y="738" width="5" height="14" fill="#00bfff"/>
<rect x="623" y="734" width="1" height="50" fill="#ff0000"/>
<rect x="621" y="740" width="5" height="12" fill="#ff0000"/>
<rect x="631" y="737" width="1" height="33" fill="#00bfff"/>
<rect x="629" y="741" width="5" height="16" fill="#00bfff"/>
<rect x="639" y="734" width="1" height="26" fill="#ff0000"/>
<rect x="637" y="738" width="5" height="21" fill="#ff0000"/>
<rect x="647" y="730" width="1" height="20" fill="#00bfff"/>
<rect x="645" y="737" width="5" height="7" fill="#00bfff"/>
<rect x="655" y="738" width="1" height="28" fill="#00bfff"/>
<rect x="653" y="743" width="5" height="11" fill="#00bfff"/>
<rect x="663" y="722" width="1" height="33" fill="#ff0000"/>
<rect x="661" y="723" width="5" height="31" fill="#ff0000"/>
<rect x="671" y="712" width="1" height="62" fill="#00bfff"/>
<rect x="669" y="723" width="5" height="41" fill="#00bfff"/>
<rect x="679" y="735" width="1" height="34" fill="#ff0000"/>
<rect x="677" y="740" width="5" height="28" fill="#ff0000"/>
<rect x="687" y="736" width="1" height="27" fill="#00bfff"/>
<rect x="685" y="740" width="5" height="10" fill="#00bfff"/>
<rect x="695" y="728" width="1" height="26" fill="#ff0000"/>
<rect x="693" y="750" width="5" height="2" fill="#ff0000"/>
<rect x="703" y="748" width="1" height="24" fill="#00bfff"/>
<rect x="701" y="751" width="5" height="13" fill="#00bfff"/>
<rect x="711" y="750" width="1" height="19" fill="#ff0000"/>
<rect x="709" y="760" width="5" height="4" fill="#ff0000"/>
<rect x="719" y="751" width="1" height="17" fill="#ff0000"/>
<rect x="717" y="756" width="5" height="8" fill="#ff0000"/>
<rect x="727" y="707" width="1" height="54" fill="#ff0000"/>
<rect x="725" y="724" width="5" height="33" fill="#ff0000"/>
<rect x="735" y="701" width="1" height="37" fill="#00bfff"/>
<rect x="733" y="723" width="5" height="8" fill="#00bfff"/>
<rect x="743" y="712" width="1" height="28" fill="#ff0000"/>
<rect x="741" y="720" width="5" height="12" fill="#ff0000"/>
<rect x="751" y="719" width="1" height="48" fill="#00bfff"/>
<rect x="749" y="720" width="5" height="31" fill="#00bfff"/>
<rect x="759" y="717" width="1" height="36" fill="#00bfff"/>
<rect x="757" y="731" width="5" height="17" fill="#00bfff"/>
<rect x="767" y="746" width="1" height="36" fill="#00bfff"/>
<rect x="765" y="749" width="5" height="2" fill="#00bfff"/>
<rect x="775" y="743" width="1" height="17" fill="#ff0000"/>
<rect x="773" y="748" width="5" height="3" fill="#ff0000"/>
<rect x="783" y="728" width="1" height="35" fill="#00bfff"/>
<rect x="781" y="748" width="5" height="8" fill="#00bfff"/>
<rect x="791" y="731" width="1" height="28" fill="#ff0000"/>
<rect x="789" y="743" width="5" height="14" fill="#ff0000"/>
<rect x="799" y="740" width="1" height="16" fill="#00bfff"/>
<rect x="797" y="746" width="5" height="5" fill="#00bfff"/>
<rect x="807" y="746" width="1" height="36" fill="#00bfff"/>
<rect x="805" y="752" width="5" height="26" fill="#00bfff"/>
<rect x="815" y="760" width="1" height="37" fill="#ff0000"/>
<rect x="813" y="762" width="5" height="15" fill="#ff0000"/>
<rect x="823" y="726" width="1" height="43" fill="#ff0000"/>
<rect x="821" y="734" width="5" height="30" fill="#ff0000"/>
<rect x="831" y="725" width="1" height="32" fill="#00bfff"/>
<rect x="829" y="734" width="5" height="1" fill="#00bfff"/>
<rect x="839" y="723" width="1" height="21" fill="#00bfff"/>
<rect x="837" y="737" width="5" height="5" fill="#00bfff"/>
<rect x="847" y="735" width="1" height="14" fill="#00bfff"/>
<rect x="845" y="742" width="5" height="2" fill="#00bfff"/>
<rect x="855" y="708" width="1" height="40" fill="#ff0000"/>
<rect x="853" y="708" width="5" height="38" fill="#ff0000"/>
<rect x="863" y="679" width="1" height="40" fill="#ff0000"/>
<rect x="861" y="683" width="5" height="26" fill="#ff0000"/>
<rect x="871" y="679" width="1" height="16" fill="#00bfff"/>
<rect x="869" y="683" width="5" height="9" fill="#00bfff"/>
<rect x="879" y="691" width="1" height="30" fill="#00bfff"/>
<rect x="877" y="693" width="5" height="25" fill="#00bfff"/>
<rect x="887" y="710" width="1" height="34" fill="#00bfff"/>
<rect x="885" y="718" width="5" height="18" fill="#00bfff"/>
<rect x="895" y="727" width="1" height="47" fill="#00bfff"/>
<rect x="893" y="740" width="5" height="20" fill="#00bfff"/>
<rect x="903" y="747" width="1" height="27" fill="#ff0000"/>
<rect x="901" y="754" width="5" height="7" fill="#ff0000"/>
<rect x="911" y="738" width="1" height="23" fill="#ff0000"/>
<rect x="909" y="748" width="5" height="9" fill="#ff0000"/>
<rect x="919" y="664" width="1" height="42" fill="#ff0000"/>
<rect x="917" y="667" width="5" height="27" fill="#ff0000"/>
<rect x="927" y="620" width="1" height="53" fill="#ff0000"/>
<rect x="925" y="625" width="5" height="44" fill="#ff0000"/>
<rect x="935" y="594" width="1" height="36" fill="#ff0000"/>
<rect x="933" y="602" width="5" height="23" fill="#ff0000"/>
<rect x="943" y="587" width="1" height="32" fill="#ff0000"/>
<rect x="941" y="591" width="5" height="12" fill="#ff0000"/>
<rect x="951" y="586" width="1" height="60" fill="#00bfff"/>
<rect x="949" y="595" width="5" height="51" fill="#00bfff"/>
<rect x="959" y="609" width="1" height="21" fill="#ff0000"/>
<rect x="957" y="613" width="5" height="15" fill="#ff0000"/>
<rect x="967" y="604" width="1" height="30" fill="#00bfff"/>
<rect x="965" y="614" width="5" height="14" fill="#00bfff"/>
<rect x="975" y="625" width="1" height="28" fill="#00bfff"/>
<rect x="973" y="626" width="5" height="23" fill="#00bfff"/>
<rect x="983" y="638" width="1" height="34" fill="#00bfff"/>
<rect x="981" y="648" width="5" height="18" fill="#00bfff"/>
<rect x="991" y="660" width="1" height="36" fill="#ff0000"/>
<rect x="989" y="661" width="5" height="8" fill="#ff0000"/>
<rect x="999" y="644" width="1" height="27" fill="#ff0000"/>
<rect x="997" y="656" width="5" height="11" fill="#ff0000"/>
<rect x="1007" y="617" width="1" height="48" fill="#ff0000"/>
<rect x="1005" y="623" width="5" height="35" fill="#ff0000"/>
<rect x="1015" y="620" width="1" height="17" fill="#ff0000"/>
<rect x="1013" y="622" width="5" height="2" fill="#ff0000"/>
<rect x="1023" y="599" width="1" height="28" fill="#ff0000"/>
<rect x="1021" y="605" width="5" height="19" fill="#ff0000"/>
<rect x="1031" y="592" width="1" height="24" fill="#ff0000"/>
<rect x="1029" y="597" width="5" height="10" fill="#ff0000"/>
<rect x="1039" y="586" width="1" height="21" fill="#ff0000"/>
<rect x="1037" y="597" width="5" height="4" fill="#ff0000"/>
<rect x="1047" y="597" width="1" height="32" fill="#00bfff"/>
<rect x="1045" y="597" width="5" height="22" fill="#00bfff"/>
<rect x="1055" y="592" width="1" height="43" fill="#ff0000"/>
<rect x="1053" y="601" width="5" height="19" fill="#ff0000"/>
<rect x="1063" y="553" width="1" height="65" fill="#ff0000"/>
<rect x="1061" y="561" width="5" height="41" fill="#ff0000"/>
<rect x="1071" y="554" width="1" height="22" fill="#00bfff"/>
<rect x="1069" y="562" width="5" height="3" fill="#00bfff"/>
<rect x="1079" y="557" width="1" height="12" fill="#ff0000"/>
<rect x="1077" y="560" width="5" height="7" fill="#ff0000"/>
<rect x="1087" y="552" width="1" height="34" fill="#00bfff"/>
<rect x="1085" y="560" width="5" height="16" fill="#00bfff"/>
<rect x="1095" y="556" width="1" height="40" fill="#ff0000"/>
<rect x="1093" y="562" width="5" height="14" fill="#ff0000"/>
<rect x="1103" y="562" width="1" height="37" fill="#00bfff"/>
<rect x="1101" y="563" width="5" height="30" fill="#00bfff"/>
<rect x="1111" y="577" width="1" height="23" fill="#ff0000"/>
<rect x="1109" y="582" width="5" height="12" fill="#ff0000"/>
<rect x="1119" y="558" width="1" height="25" fill="#ff0000"/>
<rect x="1117" y="562" width="5" height="14" fill="#ff0000"/>
<rect x="1127" y="552" width="1" height="24" fill="#ff0000"/>
<rect x="1125" y="561" width="5" height="1" fill="#ff0000"/>
<rect x="1135" y="536" width="1" height="29" fill="#ff0000"/>
<rect x="1133" y="543" width="5" height="20" fill="#ff0000"/>
<rect x="1143" y="537" width="1" height="26" fill="#00bfff"/>
<rect x="1141" y="544" width="5" height="8" fill="#00bfff"/>
<rect x="1151" y="544" width="1" height="33" fill="#00bfff"/>
<rect x="1149" y="551" width="5" height="1" fill="#00bfff"/>
<rect x="1159" y="529" width="1" height="26" fill="#ff0000"/>
<rect x="1157" y="530" width="5" height="22" fill="#ff0000"/>
<rect x="1167" y="518" width="1" height="22" fill="#ff0000"/>
<rect x="1165" y="523" width="5" height="11" fill="#ff0000"/>
<rect x="1175" y="477" width="1" height="50" fill="#ff0000"/>
<rect x="1173" y="478" width="5" height="49" fill="#ff0000"/>
<rect x="1183" y="457" width="1" height="29" fill="#ff0000"/>
<rect x="1181" y="469" width="5" height="10" fill="#ff0000"/>
<rect x="1191" y="466" width="1" height="38" fill="#00bfff"/>
<rect x="1189" y="469" width="5" height="31" fill="#00bfff"/>
<rect x="1199" y="477" width="1" height="25" fill="#ff0000"/>
<rect x="1197" y="484" width="5" height="18" fill="#ff0000"/>
<rect x="1207" y="485" width="1" height="30" fill="#00bfff"/>
<rect x="1205" y="487" width="5" height="22" fill="#00bfff"/>
<rect x="1215" y="490" width="1" height="30" fill="#ff0000"/>
<rect x="1213" y="497" width="5" height="13" fill="#ff0000"/>
<rect x="1223" y="497" width="1" height="21" fill="#00bfff"/>
<rect x="1221" y="497" width="5" height="5" fill="#00bfff"/>
<rect x="1231" y="493" width="1" height="17" fill="#00bfff"/>
<rect x="1229" y="502" width="5" height="3" fill="#00bfff"/>
<rect x="1239" y="506" width="1" height="42" fill="#00bfff"/>
<rect x="1237" y="509" width="5" height="16" fill="#00bfff"/>
<rect x="1247" y="505" width="1" height="23" fill="#ff0000"/>
<rect x="1245" y="516" width="5" height="11" fill="#ff0000"/>
<rect x="1255" y="512" width="1" height="26" fill="#00bfff"/>
<rect x="1253" y="516" width="5" height="10" fill="#00bfff"/>
<rect x="1263" y="522" width="1" height="30" fill="#00bfff"/>
<rect x="1261" y="532" width="5" height="5" fill="#00bfff"/>
<rect x="1271" y="527" width="1" height="30" fill="#ff0000"/>
<rect x="1269" y="527" width="5" height="11" fill="#ff0000"/>
<rect x="1279" y="512" width="1" height="29" fill="#ff0000"/>
<rect x="1277" y="513" width="5" height="22" fill="#ff0000"/>
<rect x="1287" y="483" width="1" height="35" fill="#ff0000"/>
<rect x="1285" y="485" width="5" height="29" fill="#ff0000"/>
<rect x="1295" y="483" width="1" height="30" fill="#00bfff"/>
<rect x="1293" y="487" width="5" height="25" fill="#00bfff"/>
<rect x="1303" y="505" width="1" height="35" fill="#00bfff"/>
<rect x="1301" y="513" width="5" height="10" fill="#00bfff"/>
<rect x="1311" y="506" width="1" height="20" fill="#ff0000"/>
<rect x="1309" y="515" width="5" height="8" fill="#ff0000"/>
<rect x="1319" y="510" width="1" height="33" fill="#00bfff"/>
<rect x="1317" y="516" width="5" height="16" fill="#00bfff"/>
<rect x="1327" y="531" width="1" height="25" fill="#00bfff"/>
<rect x="1325" y="534" width="5" height="13" fill="#00bfff"/>
<rect x="1335" y="516" width="1" height="36" fill="#ff0000"/>
<rect x="1333" y="518" width="5" height="29" fill="#ff0000"/>
<rect x="1343" y="510" width="1" height="21" fill="#00bfff"/>
<rect x="1341" y="520" width="5" height="3" fill="#00bfff"/>
<rect x="1351" y="460" width="1" height="66" fill="#ff0000"/>
<rect x="1349" y="460" width="5" height="66" fill="#ff0000"/>
<rect x="1359" y="462" width="1" height="29" fill="#00bfff"/>
<rect x="1357" y="464" width="5" height="18" fill="#00bfff"/>
<rect x="1367" y="480" width="1" height="40" fill="#00bfff"/>
<rect x="1365" y="481" width="5" height="23" fill="#00bfff"/>
<rect x="1375" y="502" width="1" height="21" fill="#00bfff"/>
<rect x="1373" y="505" width="5" height="8" fill="#00bfff"/>
<rect x="1383" y="489" width="1" height="29" fill="#ff0000"/>
<rect x="1381" y="494" width="5" height="22" fill="#ff0000"/>
<rect x="1391" y="496" width="1" height="16" fill="#00bfff"/>
<rect x="1389" y="496" width="5" height="14" fill="#00bfff"/>
<rect x="1399" y="494" width="1" height="24" fill="#ff0000"/>
<rect x="1397" y="498" width="5" height="13" fill="#ff0000"/>
<rect x="1407" y="482" width="1" height="20" fill="#ff0000"/>
<rect x="1405" y="491" width="5" height="10" fill="#ff0000"/>
<rect x="1415" y="482" width="1" height="14" fill="#ff0000"/>
<rect x="1413" y="486" width="5" height="7" fill="#ff0000"/>
<rect x="1423" y="473" width="1" height="33" fill="#00bfff"/>
<rect x="1421" y="491" width="5" height="8" fill="#00bfff"/>
<rect x="1431" y="487" width="1" height="17" fill="#ff0000"/>
<rect x="1429" y="491" width="5" height="11" fill="#ff0000"/>
<rect x="1439" y="487" width="1" height="15" fill="#ff0000"/>
<rect x="1437" y="489" width="5" height="5" fill="#ff0000"/>
<rect x="1447" y="486" width="1" height="7" fill="#ff0000"/>
<rect x="1445" y="488" width="5" height="2" fill="#ff0000"/>
<path d="M454 796h3v1h-3zM457 795h3v1h-3zM460 794h2v1h-2zM462 793h2v1h-2zM464 792h2v1h-2zM466 791h2v1h-2zM468 790h2v1h-2zM470 789h2v1h-2zM472 788h2v1h-2zM474 787h5v1h-5zM479 786h6v1h-6zM485 785h5v1h-5zM490 784h6v1h-6zM496 783h1v1h-1zM497 782h2v1h-2zM499 781h1v1h-1zM500 780h2v1h-2zM502 779h2v1h-2zM504 778h2v1h-2zM506 777h1v1h-1zM507 776h3v1h-3zM510 775h1v1h-1zM511 774h3v1h-3zM514 773h1v1h-1zM515 772h2v1h-2zM517 771h1v1h-1zM518 770h1v1h-1zM519 769h1v1h-1zM520 768h2v1h-2zM522 767h1v1h-1zM523 766h1v1h-1zM524 765h1v1h-1zM525 764h1v1h-1zM526 763h1v2h-1zM527 762h1v1h-1zM528 761h1v2h-1zM529 760h1v1h-1zM530 759h1v2h-1zM531 758h1v1h-1zM532 757h1v2h-1zM533 756h1v1h-1zM534 755h1v2h-1zM535 754h1v1h-1zM536 753h1v2h-1zM537 752h1v1h-1zM538 751h1v1h-1zM539 750h1v1h-1zM540 749h1v1h-1zM541 748h1v1h-1zM542 747h1v1h-1zM543 746h1v1h-1zM544 745h1v1h-1zM545 744h1v1h-1zM546 743h2v1h-2zM548 742h2v1h-2zM550 741h5v1h-5zM555 740h7v1h-7zM562 739h7v1h-7zM569 738h6v1h-6zM575 737h4v1h-4zM579 736h7v1h-7zM586 735h6v1h-6zM592 734h1v1h-1zM593 735h13v1h-13zM606 736h5v1h-5zM611 737h5v1h-5zM616 738h6v1h-6zM622 739h10v1h-10zM632 740h7v1h-7zM639 739h7v1h-7zM646 738h6v1h-6zM652 737h4v1h-4zM656 736h22v1h-22zM678 737h5v1h-5zM683 738h3v1h-3zM686 739h3v1h-3zM689 740h3v1h-3zM692 741h2v1h-2zM694 742h3v1h-3zM697 743h1v1h-1zM698 744h2v1h-2zM700 745h1v1h-1zM701 746h2v1h-2zM703 747h20v1h-20zM723 746h6v1h-6zM729 745h5v1h-5zM734 744h9v1h-9zM743 743h4v1h-4zM747 744h7v1h-7zM754 745h28v1h-28zM782 746h5v1h-5zM787 745h4v1h-4zM791 744h1v1h-1zM792 745h4v1h-4zM796 746h5v1h-5zM801 747h10v1h-10zM811 748h16v1h-16zM827 747h6v1h-6zM833 746h22v1h-22zM855 745h2v1h-2zM857 744h2v1h-2zM859 743h2v1h-2zM861 742h2v1h-2zM863 741h2v1h-2zM865 740h2v1h-2zM867 739h2v1h-2zM869 738h2v1h-2zM871 737h3v1h-3zM874 736h2v1h-2zM876 735h10v1h-10zM886 736h4v1h-4zM890 737h4v1h-4zM894 738h5v1h-5zM899 739h12v1h-12zM911 738h3v1h-3zM914 737h2v1h-2zM916 736h2v1h-2zM918 735h2v1h-2zM920 734h1v1h-1zM921 733h2v1h-2zM923 732h1v1h-1zM924 731h1v1h-1zM925 730h2v1h-2zM927 729h1v1h-1zM928 728h1v1h-1zM929 727h1v1h-1zM930 726h2v1h-2zM932 725h1v1h-1zM933 724h1v1h-1zM934 723h1v1h-1zM935 722h1v1h-1zM936 721h1v1h-1zM937 720h2v1h-2zM939 719h1v1h-1zM940 718h1v1h-1zM941 717h1v1h-1zM942 716h1v1h-1zM943 715h1v1h-1zM944 714h1v1h-1zM945 713h2v1h-2zM947 712h1v1h-1zM948 711h1v1h-1zM949 710h1v1h-1zM950 709h1v1h-1zM951 708h1v1h-1zM952 707h1v1h-1zM953 706h1v1h-1zM954 705h1v1h-1zM955 704h1v1h-1zM956 703h1v1h-1zM957 702h1v1h-1zM958 701h2v1h-2zM960 700h1v1h-1zM961 699h1v1h-1zM962 698h1v1h-1zM963 697h1v1h-1zM964 696h1v1h-1zM965 695h2v1h-2zM967 694h1v1h-1zM968 693h1v1h-1zM969 692h1v1h-1zM970 691h2v1h-2zM972 690h1v1h-1zM973 689h1v1h-1zM974 688h2v1h-2zM976 687h3v1h-3zM979 686h2v1h-2zM981 685h2v1h-2zM983 684h2v1h-2zM985 683h2v1h-2zM987 682h3v1h-3zM990 681h2v1h-2zM992 680h2v1h-2zM994 679h2v1h-2zM996 678h2v1h-2zM998 677h2v1h-2zM1000 676h1v1h-1zM1001 675h1v1h-1zM1002 674h1v1h-1zM1003 673h2v1h-2zM1005 672h1v1h-1zM1006 671h1v1h-1zM1007 670h2v1h-2zM1009 669h2v1h-2zM1011 668h2v1h-2zM1013 667h2v1h-2zM1015 666h2v1h-2zM1017 665h2v1h-2zM1019 664h2v1h-2zM1021 663h2v1h-2zM1023 662h2v1h-2zM1025 661h2v1h-2zM1027 660h2v1h-2zM1029 659h1v1h-1zM1030 658h2v1h-2zM1032 657h1v1h-1zM1033 656h1v1h-1zM1034 655h2v1h-2zM1036 654h1v1h-1zM1037 653h1v1h-1zM1038 652h2v1h-2zM1040 651h1v1h-1zM1041 650h2v1h-2zM1043 649h1v1h-1zM1044 648h1v1h-1zM1045 647h1v1h-1zM1046 646h1v1h-1zM1047 645h1v1h-1zM1048 644h1v1h-1zM1049 643h1v1h-1zM1050 642h1v1h-1zM1051 641h1v1h-1zM1052 640h1v1h-1zM1053 639h1v1h-1zM1054 638h1v1h-1zM1055 637h1v1h-1zM1056 636h1v1h-1zM1057 635h1v1h-1zM1058 634h1v1h-1zM1059 633h1v1h-1zM1060 632h1v1h-1zM1061 631h1v1h-1zM1062 630h1v1h-1zM1063 629h1v1h-1zM1064 627h1v2h-1zM1065 626h1v1h-1zM1066 625h1v1h-1zM1067 624h1v1h-1zM1068 623h1v1h-1zM1069 622h1v1h-1zM1070 621h1v1h-1zM1071 619h1v2h-1zM1072 618h1v1h-1zM1073 617h2v1h-2zM1075 616h2v1h-2zM1077 615h2v1h-2zM1079 614h2v1h-2zM1081 613h4v1h-4zM1085 612h5v1h-5zM1090 611h7v1h-7zM1097 610h8v1h-8zM1105 609h2v1h-2zM1107 608h3v1h-3zM1110 607h2v1h-2zM1112 606h3v1h-3zM1115 605h3v1h-3zM1118 604h2v1h-2zM1120 603h3v1h-3zM1123 602h3v1h-3zM1126 601h2v1h-2zM1128 600h1v1h-1zM1129 599h1v1h-1zM1130 598h2v1h-2zM1132 597h1v1h-1zM1133 596h1v1h-1zM1134 595h2v1h-2zM1136 594h1v1h-1zM1137 593h2v1h-2zM1139 592h2v1h-2zM1141 591h2v1h-2zM1143 590h1v1h-1zM1144 589h1v1h-1zM1145 588h2v1h-2zM1147 587h1v1h-1zM1148 586h1v1h-1zM1149 585h2v1h-2zM1151 584h1v1h-1zM1152 583h1v1h-1zM1153 582h2v1h-2zM1155 581h1v1h-1zM1156 580h2v1h-2zM1158 579h1v1h-1zM1159 578h2v1h-2zM1161 577h2v1h-2zM1163 576h1v1h-1zM1164 575h2v1h-2zM1166 574h1v1h-1zM1167 573h2v1h-2zM1169 572h1v1h-1zM1170 571h1v1h-1zM1171 570h1v1h-1zM1172 569h1v1h-1zM1173 568h1v1h-1zM1174 567h1v1h-1zM1175 566h1v1h-1zM1176 565h1v1h-1zM1177 564h1v1h-1zM1178 563h1v1h-1zM1179 562h1v1h-1zM1180 561h1v1h-1zM1181 560h1v1h-1zM1182 559h2v1h-2zM1184 558h1v1h-1zM1185 557h2v1h-2zM1187 556h1v1h-1zM1188 555h1v1h-1zM1189 554h2v1h-2zM1191 553h1v1h-1zM1192 552h2v1h-2zM1194 551h1v1h-1zM1195 550h2v1h-2zM1197 549h1v1h-1zM1198 548h2v1h-2zM1200 547h1v1h-1zM1201 546h2v1h-2zM1203 545h1v1h-1zM1204 544h2v1h-2zM1206 543h1v1h-1zM1207 542h2v1h-2zM1209 541h1v1h-1zM1210 540h2v1h-2zM1212 539h2v1h-2zM1214 538h3v1h-3zM1217 537h2v1h-2zM1219 536h2v1h-2zM1221 535h3v1h-3zM1224 534h2v1h-2zM1226 533h3v1h-3zM1229 532h3v1h-3zM1232 531h4v1h-4zM1236 530h3v1h-3zM1239 529h4v1h-4zM1243 528h3v1h-3zM1246 527h4v1h-4zM1250 526h3v1h-3zM1253 525h3v1h-3zM1256 524h3v1h-3zM1259 523h3v1h-3zM1262 522h3v1h-3zM1265 521h3v1h-3zM1268 520h4v1h-4zM1272 519h4v1h-4zM1276 518h4v1h-4zM1280 517h3v1h-3zM1283 516h2v1h-2zM1285 515h3v1h-3zM1288 514h2v1h-2zM1290 513h3v1h-3zM1293 512h3v1h-3zM1296 511h3v1h-3zM1299 510h3v1h-3zM1302 509h6v1h-6zM1308 508h16v1h-16zM1324 509h3v1h-3zM1327 510h2v1h-2zM1329 511h4v1h-4zM1333 512h5v1h-5zM1338 513h6v1h-6zM1344 512h51v1h-51zM1395 511h5v1h-5zM1400 510h6v1h-6zM1406 509h4v1h-4zM1410 508h5v1h-5zM1415 507h5v1h-5zM1420 506h4v1h-4zM1424 505h4v1h-4zM1428 504h6v1h-6zM1434 503h14v1h-14z" fill="#ff0000"/>
<rect x="0" y="515" width="1836" height="1" fill="#ffff00"/>
<rect x="0" y="550" width="1836" height="1" fill="#0000ff"/>
<polyline points="1162.3,556.0 1166.3,543.4 1174.0,532.4 1181.0,520.3 1186.0,503.8 1192.7,484.0 1200.0,472.4 1205.9,479.6 1212.5,489.5 1218.0,499.4 1223.5,510.0 1231.2,504.5 1237.0,499.4 1242.2,506.0 1248.8,517.0 1255.4,530.0 1262.0,540.0 1268.6,532.4 1275.2,520.3 1281.8,506.0 1288.4,491.0 1292.8,508.0 1299.4,523.6 1306.0,534.6 1310.8,541.9 1317.0,534.6 1321.4,525.8 1325.0,515.5 1330.0,525.8 1333.0,532.4 1337.0,541.2 1340.3,531.0 1344.0,516.3 1347.6,500.0 1352.0,487.0 1355.7,478.0 1358.6,469.3 1363.7,473.0 1369.6,478.9 1375.5,487.7 1381.3,495.0 1386.5,500.0 1388.7,504.0 1394.5,504.8 1401.9,504.5 1409.2,502.8 1416.5,498.7 1423.9,492.8 1428.3,488.4 1432.2,483.7" fill="none" stroke="#ffff00" stroke-width="2.8" stroke-linejoin="round" stroke-linecap="round" shape-rendering="geometricPrecision"/>
<polyline points="1354.2,461.3 1359.3,468.6 1365.2,478.0 1371.0,489.0 1377.0,498.0 1381.3,503.8 1385.0,508.2 1388.7,501.6 1394.5,490.6 1400.4,479.6 1404.5,474.8 1409.2,478.9 1415.0,487.0 1421.0,493.5 1426.8,500.9 1431.2,505.0 1434.9,502.3 1440.0,494.3 1445.9,483.3 1451.4,474.9" fill="none" stroke="#ff1493" stroke-width="2.9" stroke-linejoin="round" stroke-linecap="round" shape-rendering="geometricPrecision"/>
<rect x="0" y="797" width="1837" height="1" fill="#fff"/>
<rect x="1836" y="407" width="1" height="391" fill="#fff"/>
<rect x="1835" y="438" width="3" height="78" fill="#fff"/>
<rect x="87" y="798" width="1" height="3" fill="#fff"/>
<rect x="183" y="798" width="1" height="3" fill="#fff"/>
<rect x="279" y="798" width="1" height="3" fill="#fff"/>
<rect x="375" y="798" width="1" height="3" fill="#fff"/>
<rect x="471" y="798" width="1" height="3" fill="#fff"/>
<rect x="567" y="798" width="1" height="3" fill="#fff"/>
<rect x="663" y="798" width="1" height="3" fill="#fff"/>
<rect x="759" y="798" width="1" height="3" fill="#fff"/>
<rect x="855" y="798" width="1" height="3" fill="#fff"/>
<rect x="951" y="798" width="1" height="3" fill="#fff"/>
<rect x="1047" y="798" width="1" height="3" fill="#fff"/>
<rect x="1143" y="798" width="1" height="3" fill="#fff"/>
<rect x="1239" y="798" width="1" height="3" fill="#fff"/>
<rect x="1335" y="798" width="1" height="3" fill="#fff"/>
<rect x="1431" y="798" width="1" height="3" fill="#fff"/>
<rect x="1837" y="435" width="2" height="1" fill="#fff"/>
<rect x="1837" y="484" width="2" height="1" fill="#fff"/>
<rect x="1837" y="533" width="2" height="1" fill="#fff"/>
<rect x="1837" y="582" width="2" height="1" fill="#fff"/>
<rect x="1837" y="631" width="2" height="1" fill="#fff"/>
<rect x="1837" y="680" width="2" height="1" fill="#fff"/>
<rect x="1837" y="729" width="2" height="1" fill="#fff"/>
<rect x="1837" y="778" width="2" height="1" fill="#fff"/>
</g>
<polygon points="1,0 11,0 6,5" fill="#fff"/>
<polygon points="0,414.7 3.3,414.7 0,418.3" fill="#fff" shape-rendering="geometricPrecision"/>
</svg>
<div class="t" style="left:-2px;top:384.5px;color:#fff;">10 Jul 2022</div>
<div class="t" style="left:94px;top:384.5px;color:#fff;">2 Oct 2022</div>
<div class="t" style="left:190px;top:384.5px;color:#fff;">25 Dec 2022</div>
<div class="t" style="left:286px;top:384.5px;color:#fff;">19 Mar 2023</div>
<div class="t" style="left:382px;top:384.5px;color:#fff;">11 Jun 2023</div>
<div class="t" style="left:478px;top:384.5px;color:#fff;">3 Sep 2023</div>
<div class="t" style="left:574px;top:384.5px;color:#fff;">26 Nov 2023</div>
<div class="t" style="left:670px;top:384.5px;color:#fff;">18 Feb 2024</div>
<div class="t" style="left:766px;top:384.5px;color:#fff;">12 May 2024</div>
<div class="t" style="left:862px;top:384.5px;color:#fff;">4 Aug 2024</div>
<div class="t" style="left:958px;top:384.5px;color:#fff;">27 Oct 2024</div>
<div class="t" style="left:1054px;top:384.5px;color:#fff;">19 Jan 2025</div>
<div class="t" style="left:1150px;top:384.5px;color:#fff;">13 Apr 2025</div>
<div class="t" style="left:1246px;top:384.5px;color:#fff;">6 Jul 2025</div>
<div class="t" style="left:1342px;top:384.5px;color:#fff;">28 Sep 2025</div>
<div class="t" style="left:1438px;top:384.5px;color:#fff;">21 Dec 2025</div>
<div class="t" style="left:-10px;top:800.5px;color:#fff;">25 Apr 2025</div>
<div class="t" style="left:86px;top:800.5px;color:#fff;">13 May 2025</div>
<div class="t" style="left:182px;top:800.5px;color:#fff;">29 May 2025</div>
<div class="t" style="left:278px;top:800.5px;color:#fff;">16 Jun 2025</div>
<div class="t" style="left:374px;top:800.5px;color:#fff;">2 Jul 2025</div>
<div class="t" style="left:470px;top:800.5px;color:#fff;">18 Jul 2025</div>
<div class="t" style="left:566px;top:800.5px;color:#fff;">5 Aug 2025</div>
<div class="t" style="left:662px;top:800.5px;color:#fff;">21 Aug 2025</div>
<div class="t" style="left:758px;top:800.5px;color:#fff;">8 Sep 2025</div>
<div class="t" style="left:854px;top:800.5px;color:#fff;">24 Sep 2025</div>
<div class="t" style="left:950px;top:800.5px;color:#fff;">10 Oct 2025</div>
<div class="t" style="left:1046px;top:800.5px;color:#fff;">28 Oct 2025</div>
<div class="t" style="left:1142px;top:800.5px;color:#fff;">13 Nov 2025</div>
<div class="t" style="left:1238px;top:800.5px;color:#fff;">1 Dec 2025</div>
<div class="t" style="left:1334px;top:800.5px;color:#fff;">17 Dec 2025</div>
<div class="t" style="left:1430px;top:800.5px;color:#fff;">6 Jan 2026</div>
<div class="t" style="left:1851px;top:11.5px;color:#fff;">161.323</div>
<div class="t" style="left:1851px;top:60.5px;color:#fff;">158.073</div>
<div class="t" style="left:1851px;top:109.5px;color:#fff;">154.823</div>
<div class="t" style="left:1851px;top:158.5px;color:#fff;">151.573</div>
<div class="t" style="left:1851px;top:207.5px;color:#fff;">148.323</div>
<div class="t" style="left:1851px;top:256.5px;color:#fff;">145.008</div>
<div class="t" style="left:1851px;top:305.5px;color:#fff;">141.758</div>
<div class="t" style="left:1851px;top:354.5px;color:#fff;">138.508</div>
<div class="t" style="left:1843px;top:427.5px;color:#fff;">158.657</div>
<div class="t" style="left:1843px;top:476.5px;color:#fff;">156.907</div>
<div class="t" style="left:1843px;top:525.5px;color:#fff;">155.157</div>
<div class="t" style="left:1843px;top:574.5px;color:#fff;">153.407</div>
<div class="t" style="left:1843px;top:623.5px;color:#fff;">151.657</div>
<div class="t" style="left:1843px;top:672.5px;color:#fff;">149.907</div>
<div class="t" style="left:1843px;top:721.5px;color:#fff;">148.157</div>
<div class="t" style="left:1843px;top:770.5px;color:#fff;">146.407</div>
<div class="tag" style="left:1846px;top:81px;width:48px;background:#fff;color:#0a0a2d"><span style="left:5px">156.770</span></div>
<div class="tag" style="left:1846px;top:115px;width:48px;background:#0000ff;color:#000018"><span style="left:5px">154.544</span></div>
<div class="tag" style="left:1838px;top:481px;width:56px;background:#fff;color:#0a0a2d"><span style="left:5px">156.770</span></div>
<div class="tag" style="left:1838px;top:509px;width:56px;background:#ffff00;color:#0a0a2d"><span style="left:5px">155.797</span></div>
<div class="tag" style="left:1838px;top:544px;width:56px;background:#0000ff;color:#000018"><span style="left:5px">154.544</span></div>
<div class="t" style="left:17.20px;top:-4.7px;color:#fff;white-space:pre;letter-spacing:-0.267px">USDJPY.raw,Weekly</div>
<div class="t" style="left:136.40px;top:-4.7px;color:#fff;white-space:pre;letter-spacing:0.145px">156.674 157.297 156.116 156.770</div>
<div class="t" style="left:9.70px;top:410px;color:#fff;white-space:pre;letter-spacing:-0.512px">USDJPY.raw,Daily</div>
<div class="t" style="left:112.80px;top:410px;color:#fff;white-space:pre;letter-spacing:0.116px">156.723 156.795 156.613 156.770</div>
<svg width="1894" height="818" viewBox="0 0 1894 818" style="position:absolute;left:0;top:0">
<defs>
<linearGradient id="gl" x1="0" y1="0" x2="1" y2="0"><stop offset="0" stop-color="#ddd"/><stop offset=".5" stop-color="#f6f6f6"/><stop offset="1" stop-color="#e2e2e2"/></linearGradient>
</defs>
<!-- logo -->
<circle cx="1719.3" cy="110.3" r="21" fill="#000"/>
<path d="M1711.8 96 L1726.6 96 L1731.8 108.6 C1727 113 1723.8 119 1722.8 126 L1720.5 126 L1720.5 111.5 A4.3 4.3 0 1 0 1718.1 111.5 L1718.1 126 L1715.6 126 C1714.6 119 1711.4 113 1706.7 108.6 Z" fill="#fff"/>
<!-- panel -->
<rect x="1697.5" y="139.5" width="43" height="531" fill="#000" opacity=".3"/>
<rect x="1698" y="140" width="42" height="530" fill="#fdfdfd"/>
<rect x="1700" y="218" width="1" height="375" fill="#e9ebed"/>
<g fill="#f1f5f1"><rect x="1700" y="255" width="30" height="1"/><rect x="1700" y="330" width="30" height="1"/><rect x="1700" y="405" width="38" height="1"/><rect x="1700" y="480" width="38" height="1"/></g>
<rect x="1700" y="143" width="38" height="75" fill="#2bbdea"/>
<rect x="1700" y="180" width="38" height="0.7" fill="#6fd2f0"/>
<g fill="#222">
<polygon points="1729.7,218 1738,218 1738,209.5"/>
<polygon points="1729.7,255 1738,255 1738,246.6"/>
<polygon points="1729.7,293 1738,293 1738,284.4"/>
<polygon points="1729.7,330 1738,330 1738,321.6"/>
<polygon points="1729.5,518 1738,518 1738,509.4"/>
</g>
<!-- eye -->
<path d="M1704.8 161 C1707.2 156 1712.5 152.2 1719.1 152.2 C1725.7 152.2 1731 156 1733.4 161 C1731 166 1725.7 169.6 1719.1 169.6 C1712.5 169.6 1707.2 166 1704.8 161 Z" fill="#fff" stroke="#222" stroke-width="1.5" stroke-linejoin="round"/>
<circle cx="1719.2" cy="159.8" r="7" fill="#fff" stroke="#222" stroke-width="1.3"/>
<circle cx="1719.2" cy="159.8" r="4.5" fill="#222"/>
<!-- cursor arrow -->
<path d="M1706.2 187 L1732 194.8 L1722.6 198 L1731.7 207.5 L1728 211.4 L1718.6 201.6 L1714.8 211.4 Z" fill="#fff" stroke="#222" stroke-width="1.6" stroke-linejoin="round"/>
<!-- stopwatch -->
<g fill="none" stroke="#3a3a3a" stroke-width="1.35">
<circle cx="1719" cy="238.5" r="11.3"/>
<circle cx="1719" cy="238.5" r="9.2"/>
<rect x="1715.8" y="223.8" width="6.6" height="2.8" rx="1" fill="#ddd"/>
<line x1="1708.2" y1="228.2" x2="1710.5" y2="230.5"/>
<line x1="1729.8" y1="229" x2="1728" y2="230.8"/>
<line x1="1719" y1="232" x2="1719" y2="234"/>
<line x1="1719.5" y1="238.5" x2="1720.5" y2="239.5"/>
</g>
<line x1="1706.3" y1="248.8" x2="1731.7" y2="223.8" stroke="#333" stroke-width="1.6"/>
<!-- marker/pencil -->
<g stroke="#2a2a2a" stroke-width="1.3" stroke-linejoin="round" stroke-linecap="round">
<path d="M1704.2 262 L1715.6 262 Q1716.4 262 1717 262.6 L1732.4 277.6 Q1733.2 278.4 1732.4 279.2 L1722.6 288.6 Q1721.8 289.3 1721 288.6 L1704.2 273.2 Z" fill="#fff"/>
<path d="M1706.3 274.2 L1711.8 273.2 L1719.2 280.3 L1717.3 282.8 Z" fill="#dcdcdc" stroke="none"/>
<path d="M1712.2 269.6 L1716 268.4 L1724.3 276.1 L1719.5 280.2 L1712 273 Z" fill="#ececec" stroke="none"/>
<path d="M1716 262.6 L1716 268.2 L1712.5 268.4 L1711.4 269.4 L1711.4 272.8 L1705.4 272.8" fill="none"/>
<line x1="1716" y1="268.2" x2="1724.3" y2="276.1"/>
<line x1="1711.8" y1="273" x2="1719.5" y2="280.2"/>
<line x1="1717.5" y1="283" x2="1727.9" y2="274.4"/>
<line x1="1719.6" y1="285" x2="1730" y2="276.3"/>
</g>
<polygon points="1704.2,262 1711,262 1704.2,268.6" fill="#222"/>
<!-- line tool -->
<rect x="-1.7" y="-16.6" width="3.4" height="33.2" rx="1.7" transform="translate(1718.95 311.05) rotate(-43.8)" fill="#fff" stroke="#2a2a2a" stroke-width="1.35"/>
<circle cx="1732.9" cy="300.5" r="4.9" fill="#ff0a7d"/>
<!-- eraser -->
<g stroke="#2a2a2a" stroke-width="1.3" stroke-linejoin="round" stroke-linecap="round">
<path d="M1708.3 347.2 L1712 344.9 L1725.8 358.2 L1724.3 360.6 L1721.6 361.8 L1707.7 349 Z" fill="#dadada"/>
<path d="M1718.3 338.1 L1720 337.6 L1733.3 350.4 L1733.4 352 L1725.8 358.2 L1712 344.9 Z" fill="#e8e8e8"/>
<path d="M1713.7 333.5 L1718.3 338.1 L1708.3 347.2 L1703.5 343.3 Z" fill="#f4f4f4"/>
<line x1="1707.5" y1="339.8" x2="1711.8" y2="344.2"/>
<path d="M1725.8 358.2 L1733.4 351.2 L1735.1 353.7 L1725 363.4 L1722.3 361.6 Z" fill="#fff"/>
<line x1="1724.6" y1="361.3" x2="1733.8" y2="352.8" stroke-width=".9"/>
</g>
<!-- dot -->
<circle cx="1719.1" cy="386.7" r="3.4" fill="#222"/>
<!-- undo -->
<path d="M1704.8 420.8 L1715 413 L1715 418.3 L1724.3 418.3 A9.05 9.05 0 0 1 1724.3 436.4 L1720.4 436.4 L1720.4 431.2 L1724.3 431.2 A3.75 3.75 0 0 0 1724.3 423.7 L1715 423.7 L1715 429.1 Z" fill="#fff" stroke="#333" stroke-width="1.5" stroke-linejoin="miter"/>
<!-- trash -->
<g stroke="#555" stroke-width="1.2" stroke-linejoin="round">
<rect x="1715.7" y="448.3" width="7" height="2.6" rx="1" fill="#eee"/>
<rect x="1709.7" y="456" width="19" height="15.4" rx="1" fill="url(#gl)"/>
<rect x="1708.7" y="450.8" width="20.8" height="5.3" rx="1.6" fill="#f2f2f2"/>
<line x1="1714.7" y1="456.5" x2="1714.7" y2="471"/>
<line x1="1723.6" y1="456.5" x2="1723.6" y2="471"/>
<rect x="1711.1" y="471.3" width="16.5" height="2.5" rx="1" fill="#eee"/>
</g>
<!-- easel -->
<g stroke="#555" stroke-width="1.2" stroke-linejoin="round">
<rect x="1714.5" y="485.8" width="8.2" height="2.4" rx="1" fill="#eee"/>
<rect x="1707" y="488.1" width="23.4" height="16.5" rx="2" fill="#fff"/>
<rect x="1710.1" y="491.9" width="17.2" height="9.3" rx=".8" fill="#dcdcdc"/>
<rect x="1712.1" y="504.6" width="13.2" height="2.4" fill="#eee"/>
<path d="M1714.4 507.3 L1713 512.3 L1714.8 512.3 L1716 507.3 Z M1721.4 507.3 L1722.8 512.3 L1724.6 512.3 L1723.2 507.3 Z" fill="#fff"/>
</g>
<circle cx="1732.9" cy="487.9" r="4.9" fill="#ff0a7d"/>
<!-- camera -->
<g stroke="#555" stroke-width="1.3" stroke-linejoin="round">
<path d="M1707 530.2 L1713.1 530.2 L1713.1 528.2 Q1713.1 527.2 1714.1 527.2 L1722.8 527.2 Q1723.8 527.2 1723.8 528.2 L1723.8 530.2 L1731.3 530.2 Q1732.6 530.2 1732.6 531.5 L1732.6 547.5 Q1732.6 548.8 1731.3 548.8 L1707 548.8 Q1705.7 548.8 1705.7 547.5 L1705.7 531.5 Q1705.7 530.2 1707 530.2 Z" fill="#fff"/>
<circle cx="1715.5" cy="539" r="7" fill="#fff" stroke-width="1.3"/>
<circle cx="1715.5" cy="539" r="5.7" fill="#fff" stroke="#888" stroke-width=".5"/>
<circle cx="1728" cy="536" r="2.1" fill="#fff" stroke-width="1.1"/>
</g>
<circle cx="1715.5" cy="539" r="4.7" fill="#333"/>
<circle cx="1717.2" cy="537.7" r="1.2" fill="#fff"/>
<rect x="1715.7" y="529.4" width="5.2" height="1.4" fill="#444"/>
<!-- clipboard -->
<g stroke="#3a3a3a" stroke-width="1.45" stroke-linejoin="round" fill="#fff">
<rect x="1708.2" y="562.9" width="21.5" height="23.5" rx="2.2"/>
<path d="M1712.6 564.2 Q1713 562 1715.5 561.6 Q1717 559.3 1719 559.3 Q1721 559.3 1722.5 561.6 Q1725 562 1725.3 564.2 Q1719 566.2 1712.6 564.2 Z"/>
<line x1="1712.1" y1="569.6" x2="1726.3" y2="569.6"/>
<line x1="1712.1" y1="574.7" x2="1726.3" y2="574.7"/>
<line x1="1712.1" y1="579.6" x2="1726.3" y2="579.6"/>
</g>
<!-- colors -->
<rect x="1700.7" y="593" width="18.3" height="18.5" fill="#00aeef"/>
<rect x="1719" y="593" width="19" height="18.5" fill="#ffed00"/>
<rect x="1700.7" y="611.5" width="18.3" height="18.5" fill="#ff0a7d"/>
<rect x="1719" y="611.5" width="19" height="18.5" fill="#000"/>
<rect x="1700.7" y="630" width="37.3" height="38" fill="#ff0a7d"/>
<rect x="1700.7" y="629.6" width="18.3" height=".8" fill="#ff3f97"/>
</svg>

</body></html>
